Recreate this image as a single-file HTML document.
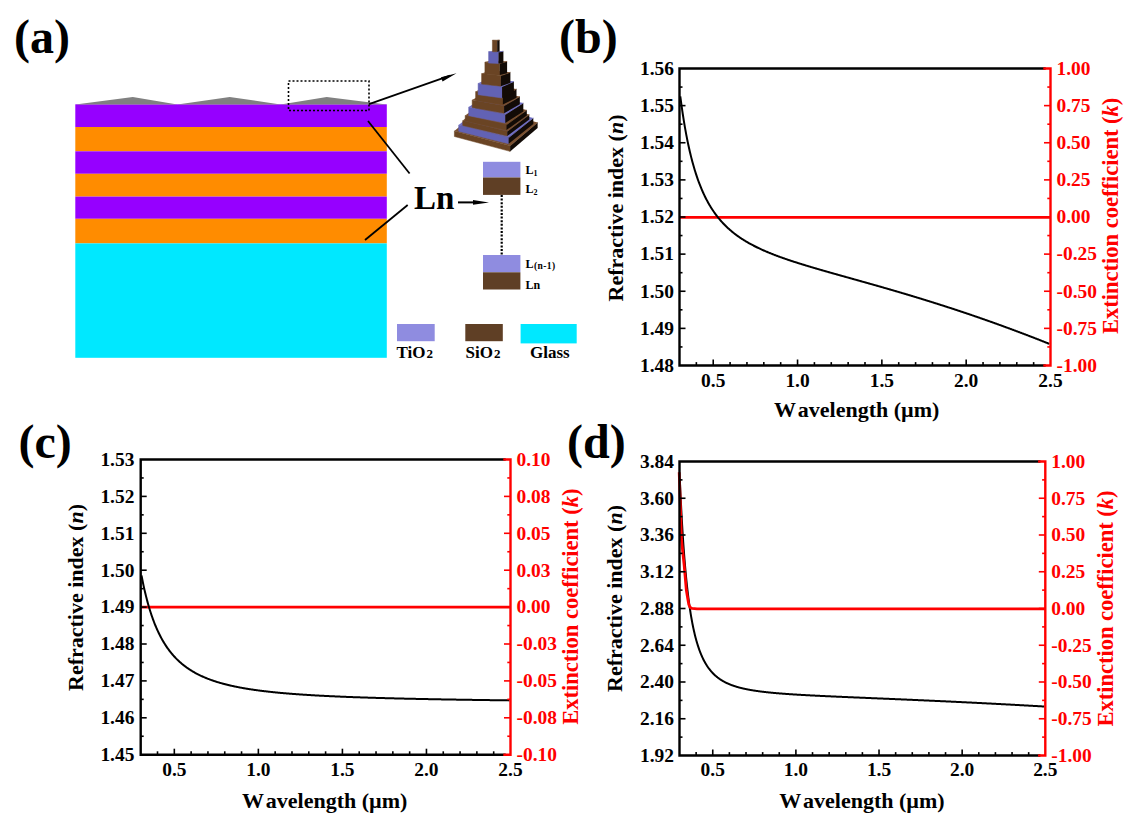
<!DOCTYPE html><html><head><meta charset="utf-8"><style>html,body{margin:0;padding:0;background:#fff;width:1132px;height:828px;overflow:hidden}svg{display:block}</style></head><body>
<svg width="1132" height="828" viewBox="0 0 1132 828" font-family='"Liberation Serif", serif' font-weight="bold">
<rect width="1132" height="828" fill="#fff"/>
<text x="14.0" y="53.0" font-size="48" text-anchor="start" fill="#000" >(a)</text>
<text x="559.0" y="53.0" font-size="48" text-anchor="start" fill="#000" >(b)</text>
<text x="18.5" y="457.5" font-size="48" text-anchor="start" fill="#000" >(c)</text>
<text x="567.0" y="457.5" font-size="48" text-anchor="start" fill="#000" >(d)</text>
<rect x="75.3" y="104.3" width="311.5" height="22.70" fill="#9600ff"/>
<rect x="75.3" y="127" width="311.5" height="24.30" fill="#ff8c00"/>
<rect x="75.3" y="151.3" width="311.5" height="22.50" fill="#9600ff"/>
<rect x="75.3" y="173.8" width="311.5" height="22.80" fill="#ff8c00"/>
<rect x="75.3" y="196.6" width="311.5" height="22.20" fill="#9600ff"/>
<rect x="75.3" y="218.8" width="311.5" height="24.60" fill="#ff8c00"/>
<rect x="75.3" y="243.4" width="311.5" height="114.40" fill="#00e8ff"/>
<path d="M75.5,104.5 L132.8,96.9 L177.4,104.5 L229.7,96.9 L280.6,104.5 L326.7,96.9 L386.6,104.5 Z" fill="#808080"/>
<rect x="288.5" y="81" width="80.5" height="29.5" fill="none" stroke="#000" stroke-width="1.6" stroke-dasharray="2 2"/>
<line x1="369" y1="104.2" x2="450" y2="75.6" stroke="#000" stroke-width="1.8"/>
<path d="M456.5,73.2 L441,77.2 L442.6,81.6 Z" fill="#000"/>
<line x1="368" y1="121" x2="409.6" y2="173.5" stroke="#000" stroke-width="1.8"/>
<line x1="407.7" y1="205" x2="365" y2="240" stroke="#000" stroke-width="1.8"/>
<text x="414.0" y="209.0" font-size="33" text-anchor="start" fill="#000" >Ln</text>
<line x1="458" y1="202.4" x2="478" y2="202.4" stroke="#000" stroke-width="2"/>
<path d="M489,202.4 L473,200 L473,204.8 Z" fill="#000"/>
<rect x="483" y="161.8" width="37.4" height="15.7" fill="#8f8ce0"/>
<rect x="483" y="177.5" width="37.4" height="17.4" fill="#5f3f25"/>
<rect x="483" y="255" width="37.4" height="17.3" fill="#8f8ce0"/>
<rect x="483" y="272.3" width="37.4" height="17.2" fill="#5f3f25"/>
<line x1="501.7" y1="195" x2="501.7" y2="255" stroke="#000" stroke-width="2.2" stroke-dasharray="2 1.6"/>
<text x="525.5" y="174" font-size="12">L<tspan font-size="8" dy="2">1</tspan></text>
<text x="525.5" y="193" font-size="12">L<tspan font-size="8" dy="2">2</tspan></text>
<text x="525.5" y="268" font-size="12">L<tspan font-size="9.5" dy="1" dx="0.5" letter-spacing="0.4">(n-1)</tspan></text>
<text x="525.5" y="288.5" font-size="12">Ln</text>
<rect x="397" y="324" width="37.7" height="17.2" fill="#8f8ce0"/>
<rect x="465.3" y="324" width="37.5" height="17.2" fill="#5f3f25"/>
<rect x="520.6" y="324" width="56.1" height="19.4" fill="#00e8ff"/>
<text x="396.5" y="358" font-size="17">TiO<tspan font-size="13" dx="1">2</tspan></text>
<text x="465.5" y="358" font-size="17">SiO<tspan font-size="13" dx="1">2</tspan></text>
<text x="530" y="358" font-size="17">Glass</text>
<path d="M454.4,130.9 L510.1,145.8 L537.6,122.5 L481.9,107.5 Z" fill="#7a5030"/>
<path d="M454.4,130.9 L510.1,145.8 L510.1,151.4 L454.4,136.5 Z" fill="#6a4424" stroke="#6a4424" stroke-width="0.5"/>
<path d="M510.1,145.8 L537.6,122.5 L537.6,128.1 L510.1,151.4 Z" fill="#120b06"/>
<path d="M510.1,145.8 L537.6,122.5" stroke="#7a5030" stroke-width="0.8" fill="none"/>
<path d="M458.7,125.0 L508.7,137.6 L533.3,117.9 L483.3,105.3 Z" fill="#7070c4"/>
<path d="M458.7,125.0 L508.7,137.6 L508.7,143.8 L458.7,131.2 Z" fill="#6262b4" stroke="#6262b4" stroke-width="0.5"/>
<path d="M508.7,137.6 L533.3,117.9 L533.3,124.1 L508.7,143.8 Z" fill="#120b06"/>
<path d="M508.7,137.6 L533.3,117.9" stroke="#7070c4" stroke-width="0.8" fill="none"/>
<path d="M462.7,120.6 L507.3,131.3 L529.3,114.6 L484.7,103.9 Z" fill="#7a5030"/>
<path d="M462.7,120.6 L507.3,131.3 L507.3,136.1 L462.7,125.4 Z" fill="#6a4424" stroke="#6a4424" stroke-width="0.5"/>
<path d="M507.3,131.3 L529.3,114.6 L529.3,119.4 L507.3,136.1 Z" fill="#120b06"/>
<path d="M507.3,131.3 L529.3,114.6" stroke="#7a5030" stroke-width="0.8" fill="none"/>
<path d="M465.2,115.4 L506.5,124.7 L526.8,110.1 L485.5,100.8 Z" fill="#7a5030"/>
<path d="M465.2,115.4 L506.5,124.7 L506.5,130.1 L465.2,120.8 Z" fill="#6a4424" stroke="#6a4424" stroke-width="0.5"/>
<path d="M506.5,124.7 L526.8,110.1 L526.8,115.5 L506.5,130.1 Z" fill="#120b06"/>
<path d="M506.5,124.7 L526.8,110.1" stroke="#7a5030" stroke-width="0.8" fill="none"/>
<path d="M468.7,107.1 L505.3,114.5 L523.3,102.9 L486.7,95.5 Z" fill="#7070c4"/>
<path d="M468.7,107.1 L505.3,114.5 L505.3,123.1 L468.7,115.7 Z" fill="#6262b4" stroke="#6262b4" stroke-width="0.5"/>
<path d="M505.3,114.5 L523.3,102.9 L523.3,111.5 L505.3,123.1 Z" fill="#120b06"/>
<path d="M505.3,114.5 L523.3,102.9" stroke="#7070c4" stroke-width="0.8" fill="none"/>
<path d="M472.2,99.9 L504.1,105.7 L519.8,96.6 L487.9,90.8 Z" fill="#7a5030"/>
<path d="M472.2,99.9 L504.1,105.7 L504.1,113.3 L472.2,107.5 Z" fill="#6a4424" stroke="#6a4424" stroke-width="0.5"/>
<path d="M504.1,105.7 L519.8,96.6 L519.8,104.2 L504.1,113.3 Z" fill="#120b06"/>
<path d="M504.1,105.7 L519.8,96.6" stroke="#7a5030" stroke-width="0.8" fill="none"/>
<path d="M475.6,91.6 L502.9,96.0 L516.5,89.1 L489.1,84.7 Z" fill="#7a5030"/>
<path d="M475.6,91.6 L502.9,96.0 L502.9,104.6 L475.6,100.2 Z" fill="#6a4424" stroke="#6a4424" stroke-width="0.5"/>
<path d="M502.9,96.0 L516.5,89.1 L516.5,97.7 L502.9,104.6 Z" fill="#120b06"/>
<path d="M502.9,96.0 L516.5,89.1" stroke="#7a5030" stroke-width="0.8" fill="none"/>
<path d="M478.1,83.3 L502.1,86.6 L513.9,81.4 L489.9,78.1 Z" fill="#7070c4"/>
<path d="M478.1,83.3 L502.1,86.6 L502.1,98.0 L478.1,94.7 Z" fill="#6262b4" stroke="#6262b4" stroke-width="0.5"/>
<path d="M502.1,86.6 L513.9,81.4 L513.9,92.8 L502.1,98.0 Z" fill="#120b06"/>
<path d="M502.1,86.6 L513.9,81.4" stroke="#7070c4" stroke-width="0.8" fill="none"/>
<path d="M481.6,73.5 L500.9,75.6 L510.4,72.3 L491.1,70.2 Z" fill="#7a5030"/>
<path d="M481.6,73.5 L500.9,75.6 L500.9,86.2 L481.6,84.1 Z" fill="#6a4424" stroke="#6a4424" stroke-width="0.5"/>
<path d="M500.9,75.6 L510.4,72.3 L510.4,82.9 L500.9,86.2 Z" fill="#120b06"/>
<path d="M500.9,75.6 L510.4,72.3" stroke="#7a5030" stroke-width="0.8" fill="none"/>
<path d="M484.9,62.1 L499.8,63.3 L507.1,61.4 L492.2,60.2 Z" fill="#7a5030"/>
<path d="M484.9,62.1 L499.8,63.3 L499.8,75.1 L484.9,73.9 Z" fill="#6a4424" stroke="#6a4424" stroke-width="0.5"/>
<path d="M499.8,63.3 L507.1,61.4 L507.1,73.2 L499.8,75.1 Z" fill="#120b06"/>
<path d="M499.8,63.3 L507.1,61.4" stroke="#7a5030" stroke-width="0.8" fill="none"/>
<path d="M488.6,51.5 L498.5,52.0 L503.4,51.2 L493.5,50.7 Z" fill="#7070c4"/>
<path d="M488.6,51.5 L498.5,52.0 L498.5,63.6 L488.6,63.1 Z" fill="#6262b4" stroke="#6262b4" stroke-width="0.5"/>
<path d="M498.5,52.0 L503.4,51.2 L503.4,62.8 L498.5,63.6 Z" fill="#120b06"/>
<path d="M498.5,52.0 L503.4,51.2" stroke="#7070c4" stroke-width="0.8" fill="none"/>
<path d="M492.4,40.1 L497.2,40.2 L499.6,40.0 L494.8,40.0 Z" fill="#7a5030"/>
<path d="M492.4,40.1 L497.2,40.2 L497.2,51.8 L492.4,51.7 Z" fill="#6a4424" stroke="#6a4424" stroke-width="0.5"/>
<path d="M497.2,40.2 L499.6,40.0 L499.6,51.6 L497.2,51.8 Z" fill="#120b06"/>
<path d="M497.2,40.2 L499.6,40.0" stroke="#7a5030" stroke-width="0.8" fill="none"/>
<path d="M679.5,217.4 L1050.5,217.4" fill="none" stroke="#f00" stroke-width="2.8" stroke-linejoin="round"/>
<path d="M680.30,96.31 L680.80,100.15 L681.30,103.85 L681.80,107.43 L682.30,110.89 L682.80,114.23 L683.30,117.46 L683.80,120.60 L684.30,123.63 L684.80,126.56 L685.30,129.41 L685.80,132.16 L686.30,134.84 L686.80,137.43 L687.30,139.94 L687.80,142.39 L688.30,144.76 L688.80,147.06 L689.30,149.29 L689.80,151.47 L690.30,153.58 L690.80,155.63 L691.30,157.63 L691.80,159.57 L692.30,161.46 L692.80,163.31 L693.30,165.10 L693.80,166.85 L694.30,168.55 L694.80,170.21 L695.30,171.82 L695.80,173.40 L696.30,174.93 L696.80,176.43 L697.30,177.90 L697.80,179.32 L698.30,180.72 L698.80,182.08 L699.30,183.41 L699.80,184.71 L700.30,185.98 L700.80,187.22 L701.30,188.43 L701.80,189.61 L702.30,190.77 L702.80,191.90 L703.30,193.01 L703.80,194.10 L704.30,195.16 L704.80,196.20 L705.30,197.22 L705.80,198.21 L706.30,199.19 L706.80,200.15 L707.30,201.08 L707.80,202.00 L708.30,202.90 L708.80,203.79 L709.30,204.65 L709.80,205.50 L710.30,206.33 L710.80,207.15 L711.30,207.95 L711.80,208.74 L712.30,209.51 L712.80,210.27 L713.30,211.01 L713.80,211.74 L714.30,212.46 L714.80,213.16 L715.30,213.86 L715.80,214.54 L716.30,215.21 L716.80,215.86 L717.30,216.51 L717.80,217.15 L718.30,217.77 L718.80,218.38 L719.30,218.99 L719.80,219.58 L720.30,220.17 L720.80,220.74 L721.30,221.31 L721.80,221.87 L722.30,222.42 L722.80,222.96 L723.30,223.49 L723.80,224.01 L724.30,224.53 L724.80,225.04 L725.30,225.54 L725.80,226.04 L726.30,226.52 L726.80,227.00 L727.30,227.47 L727.80,227.94 L728.30,228.40 L728.80,228.85 L729.30,229.30 L729.80,229.74 L730.30,230.18 L730.80,230.61 L731.30,231.03 L731.80,231.45 L732.30,231.86 L732.80,232.27 L733.30,232.67 L733.80,233.06 L734.30,233.46 L734.80,233.84 L735.30,234.22 L735.80,234.60 L736.30,234.97 L736.80,235.34 L737.30,235.71 L737.80,236.07 L738.30,236.42 L738.80,236.77 L739.30,237.12 L739.80,237.46 L740.30,237.80 L740.80,238.14 L741.30,238.47 L741.80,238.80 L742.30,239.12 L742.80,239.44 L743.30,239.76 L743.80,240.07 L744.30,240.38 L744.80,240.69 L745.30,241.00 L745.80,241.30 L746.30,241.60 L746.80,241.89 L747.30,242.18 L747.80,242.47 L748.30,242.76 L748.80,243.04 L749.30,243.32 L749.80,243.60 L750.30,243.88 L750.80,244.15 L751.30,244.42 L751.80,244.69 L752.30,244.96 L752.80,245.22 L753.30,245.48 L753.80,245.74 L754.30,246.00 L754.80,246.25 L755.30,246.50 L755.80,246.75 L756.30,247.00 L756.80,247.25 L757.30,247.49 L757.80,247.73 L758.30,247.97 L758.80,248.21 L759.30,248.45 L759.80,248.68 L760.30,248.91 L760.80,249.14 L761.30,249.37 L761.80,249.60 L762.30,249.83 L762.80,250.05 L763.30,250.27 L763.80,250.49 L764.30,250.71 L764.80,250.93 L765.30,251.15 L765.80,251.36 L766.30,251.58 L766.80,251.79 L767.30,252.00 L767.80,252.21 L768.30,252.42 L768.80,252.62 L769.30,252.83 L769.80,253.03 L770.30,253.23 L770.80,253.44 L771.30,253.64 L771.80,253.83 L772.30,254.03 L772.80,254.23 L773.30,254.42 L773.80,254.62 L774.30,254.81 L774.80,255.01 L775.30,255.20 L775.80,255.39 L776.30,255.58 L776.80,255.76 L777.30,255.95 L777.80,256.14 L778.30,256.32 L778.80,256.51 L779.30,256.69 L779.80,256.87 L780.30,257.06 L780.80,257.24 L781.30,257.42 L781.80,257.60 L782.30,257.77 L782.80,257.95 L783.30,258.13 L783.80,258.30 L784.30,258.48 L784.80,258.65 L785.30,258.83 L785.80,259.00 L786.30,259.17 L786.80,259.34 L787.30,259.51 L787.80,259.68 L788.30,259.85 L788.80,260.02 L789.30,260.19 L789.80,260.36 L790.30,260.53 L790.80,260.69 L791.30,260.86 L791.80,261.02 L792.30,261.19 L792.80,261.35 L793.30,261.51 L793.80,261.68 L794.30,261.84 L794.80,262.00 L795.30,262.16 L795.80,262.32 L796.30,262.48 L796.80,262.64 L797.30,262.80 L797.80,262.96 L798.30,263.12 L798.80,263.28 L799.30,263.44 L799.80,263.59 L800.30,263.75 L800.80,263.91 L801.30,264.06 L801.80,264.22 L802.30,264.37 L802.80,264.53 L803.30,264.68 L803.80,264.83 L804.30,264.99 L804.80,265.14 L805.30,265.29 L805.80,265.45 L806.30,265.60 L806.80,265.75 L807.30,265.90 L807.80,266.05 L808.30,266.20 L808.80,266.35 L809.30,266.50 L809.80,266.65 L810.30,266.80 L810.80,266.95 L811.30,267.10 L811.80,267.25 L812.30,267.40 L812.80,267.54 L813.30,267.69 L813.80,267.84 L814.30,267.99 L814.80,268.13 L815.30,268.28 L815.80,268.43 L816.30,268.57 L816.80,268.72 L817.30,268.87 L817.80,269.01 L818.30,269.16 L818.80,269.30 L819.30,269.45 L819.80,269.59 L820.30,269.74 L820.80,269.88 L821.30,270.03 L821.80,270.17 L822.30,270.32 L822.80,270.46 L823.30,270.60 L823.80,270.75 L824.30,270.89 L824.80,271.03 L825.30,271.18 L825.80,271.32 L826.30,271.46 L826.80,271.61 L827.30,271.75 L827.80,271.89 L828.30,272.03 L828.80,272.17 L829.30,272.32 L829.80,272.46 L830.30,272.60 L830.80,272.74 L831.30,272.88 L831.80,273.03 L832.30,273.17 L832.80,273.31 L833.30,273.45 L833.80,273.59 L834.30,273.73 L834.80,273.87 L835.30,274.01 L835.80,274.16 L836.30,274.30 L836.80,274.44 L837.30,274.58 L837.80,274.72 L838.30,274.86 L838.80,275.00 L839.30,275.14 L839.80,275.28 L840.30,275.42 L840.80,275.56 L841.30,275.70 L841.80,275.84 L842.30,275.98 L842.80,276.12 L843.30,276.26 L843.80,276.40 L844.30,276.54 L844.80,276.68 L845.30,276.82 L845.80,276.96 L846.30,277.10 L846.80,277.24 L847.30,277.38 L847.80,277.52 L848.30,277.66 L848.80,277.80 L849.30,277.94 L849.80,278.08 L850.30,278.22 L850.80,278.36 L851.30,278.50 L851.80,278.64 L852.30,278.78 L852.80,278.92 L853.30,279.06 L853.80,279.20 L854.30,279.34 L854.80,279.48 L855.30,279.62 L855.80,279.76 L856.30,279.90 L856.80,280.04 L857.30,280.18 L857.80,280.32 L858.30,280.46 L858.80,280.60 L859.30,280.74 L859.80,280.88 L860.30,281.02 L860.80,281.17 L861.30,281.31 L861.80,281.45 L862.30,281.59 L862.80,281.73 L863.30,281.87 L863.80,282.01 L864.30,282.15 L864.80,282.29 L865.30,282.43 L865.80,282.57 L866.30,282.71 L866.80,282.85 L867.30,282.99 L867.80,283.14 L868.30,283.28 L868.80,283.42 L869.30,283.56 L869.80,283.70 L870.30,283.84 L870.80,283.98 L871.30,284.13 L871.80,284.27 L872.30,284.41 L872.80,284.55 L873.30,284.69 L873.80,284.84 L874.30,284.98 L874.80,285.12 L875.30,285.26 L875.80,285.40 L876.30,285.55 L876.80,285.69 L877.30,285.83 L877.80,285.97 L878.30,286.12 L878.80,286.26 L879.30,286.40 L879.80,286.55 L880.30,286.69 L880.80,286.83 L881.30,286.97 L881.80,287.12 L882.30,287.26 L882.80,287.41 L883.30,287.55 L883.80,287.69 L884.30,287.84 L884.80,287.98 L885.30,288.12 L885.80,288.27 L886.30,288.41 L886.80,288.56 L887.30,288.70 L887.80,288.85 L888.30,288.99 L888.80,289.14 L889.30,289.28 L889.80,289.43 L890.30,289.57 L890.80,289.72 L891.30,289.86 L891.80,290.01 L892.30,290.15 L892.80,290.30 L893.30,290.44 L893.80,290.59 L894.30,290.74 L894.80,290.88 L895.30,291.03 L895.80,291.18 L896.30,291.32 L896.80,291.47 L897.30,291.62 L897.80,291.76 L898.30,291.91 L898.80,292.06 L899.30,292.20 L899.80,292.35 L900.30,292.50 L900.80,292.65 L901.30,292.79 L901.80,292.94 L902.30,293.09 L902.80,293.24 L903.30,293.39 L903.80,293.54 L904.30,293.68 L904.80,293.83 L905.30,293.98 L905.80,294.13 L906.30,294.28 L906.80,294.43 L907.30,294.58 L907.80,294.73 L908.30,294.88 L908.80,295.03 L909.30,295.18 L909.80,295.33 L910.30,295.48 L910.80,295.63 L911.30,295.78 L911.80,295.93 L912.30,296.08 L912.80,296.23 L913.30,296.38 L913.80,296.53 L914.30,296.68 L914.80,296.84 L915.30,296.99 L915.80,297.14 L916.30,297.29 L916.80,297.44 L917.30,297.60 L917.80,297.75 L918.30,297.90 L918.80,298.05 L919.30,298.21 L919.80,298.36 L920.30,298.51 L920.80,298.67 L921.30,298.82 L921.80,298.97 L922.30,299.13 L922.80,299.28 L923.30,299.43 L923.80,299.59 L924.30,299.74 L924.80,299.90 L925.30,300.05 L925.80,300.21 L926.30,300.36 L926.80,300.52 L927.30,300.67 L927.80,300.83 L928.30,300.98 L928.80,301.14 L929.30,301.30 L929.80,301.45 L930.30,301.61 L930.80,301.76 L931.30,301.92 L931.80,302.08 L932.30,302.23 L932.80,302.39 L933.30,302.55 L933.80,302.71 L934.30,302.86 L934.80,303.02 L935.30,303.18 L935.80,303.34 L936.30,303.50 L936.80,303.65 L937.30,303.81 L937.80,303.97 L938.30,304.13 L938.80,304.29 L939.30,304.45 L939.80,304.61 L940.30,304.77 L940.80,304.93 L941.30,305.09 L941.80,305.25 L942.30,305.41 L942.80,305.57 L943.30,305.73 L943.80,305.89 L944.30,306.05 L944.80,306.21 L945.30,306.37 L945.80,306.53 L946.30,306.69 L946.80,306.86 L947.30,307.02 L947.80,307.18 L948.30,307.34 L948.80,307.50 L949.30,307.67 L949.80,307.83 L950.30,307.99 L950.80,308.16 L951.30,308.32 L951.80,308.48 L952.30,308.65 L952.80,308.81 L953.30,308.97 L953.80,309.14 L954.30,309.30 L954.80,309.47 L955.30,309.63 L955.80,309.80 L956.30,309.96 L956.80,310.13 L957.30,310.29 L957.80,310.46 L958.30,310.62 L958.80,310.79 L959.30,310.95 L959.80,311.12 L960.30,311.29 L960.80,311.45 L961.30,311.62 L961.80,311.79 L962.30,311.95 L962.80,312.12 L963.30,312.29 L963.80,312.46 L964.30,312.62 L964.80,312.79 L965.30,312.96 L965.80,313.13 L966.30,313.30 L966.80,313.47 L967.30,313.63 L967.80,313.80 L968.30,313.97 L968.80,314.14 L969.30,314.31 L969.80,314.48 L970.30,314.65 L970.80,314.82 L971.30,314.99 L971.80,315.16 L972.30,315.33 L972.80,315.50 L973.30,315.68 L973.80,315.85 L974.30,316.02 L974.80,316.19 L975.30,316.36 L975.80,316.53 L976.30,316.71 L976.80,316.88 L977.30,317.05 L977.80,317.22 L978.30,317.40 L978.80,317.57 L979.30,317.74 L979.80,317.92 L980.30,318.09 L980.80,318.26 L981.30,318.44 L981.80,318.61 L982.30,318.78 L982.80,318.96 L983.30,319.13 L983.80,319.31 L984.30,319.48 L984.80,319.66 L985.30,319.83 L985.80,320.01 L986.30,320.19 L986.80,320.36 L987.30,320.54 L987.80,320.71 L988.30,320.89 L988.80,321.07 L989.30,321.25 L989.80,321.42 L990.30,321.60 L990.80,321.78 L991.30,321.95 L991.80,322.13 L992.30,322.31 L992.80,322.49 L993.30,322.67 L993.80,322.85 L994.30,323.02 L994.80,323.20 L995.30,323.38 L995.80,323.56 L996.30,323.74 L996.80,323.92 L997.30,324.10 L997.80,324.28 L998.30,324.46 L998.80,324.64 L999.30,324.82 L999.80,325.00 L1000.30,325.18 L1000.80,325.37 L1001.30,325.55 L1001.80,325.73 L1002.30,325.91 L1002.80,326.09 L1003.30,326.27 L1003.80,326.46 L1004.30,326.64 L1004.80,326.82 L1005.30,327.01 L1005.80,327.19 L1006.30,327.37 L1006.80,327.56 L1007.30,327.74 L1007.80,327.92 L1008.30,328.11 L1008.80,328.29 L1009.30,328.48 L1009.80,328.66 L1010.30,328.84 L1010.80,329.03 L1011.30,329.21 L1011.80,329.40 L1012.30,329.59 L1012.80,329.77 L1013.30,329.96 L1013.80,330.14 L1014.30,330.33 L1014.80,330.52 L1015.30,330.70 L1015.80,330.89 L1016.30,331.08 L1016.80,331.26 L1017.30,331.45 L1017.80,331.64 L1018.30,331.83 L1018.80,332.02 L1019.30,332.20 L1019.80,332.39 L1020.30,332.58 L1020.80,332.77 L1021.30,332.96 L1021.80,333.15 L1022.30,333.34 L1022.80,333.53 L1023.30,333.72 L1023.80,333.91 L1024.30,334.10 L1024.80,334.29 L1025.30,334.48 L1025.80,334.67 L1026.30,334.86 L1026.80,335.05 L1027.30,335.24 L1027.80,335.43 L1028.30,335.62 L1028.80,335.82 L1029.30,336.01 L1029.80,336.20 L1030.30,336.39 L1030.80,336.59 L1031.30,336.78 L1031.80,336.97 L1032.30,337.16 L1032.80,337.36 L1033.30,337.55 L1033.80,337.74 L1034.30,337.94 L1034.80,338.13 L1035.30,338.33 L1035.80,338.52 L1036.30,338.72 L1036.80,338.91 L1037.30,339.11 L1037.80,339.30 L1038.30,339.50 L1038.80,339.69 L1039.30,339.89 L1039.80,340.08 L1040.30,340.28 L1040.80,340.48 L1041.30,340.67 L1041.80,340.87 L1042.30,341.07 L1042.80,341.26 L1043.30,341.46 L1043.80,341.66 L1044.30,341.86 L1044.80,342.06 L1045.30,342.25 L1045.80,342.45 L1046.30,342.65 L1046.80,342.85 L1047.30,343.05 L1047.80,343.25 L1048.30,343.45 L1048.80,343.65 L1049.30,343.85" fill="none" stroke="#000" stroke-width="2.0" stroke-linejoin="round"/>
<line x1="696.36" y1="365.5" x2="696.36" y2="362.1" stroke="#000" stroke-width="1.6"/>
<line x1="713.23" y1="365.5" x2="713.23" y2="359.5" stroke="#000" stroke-width="1.6"/>
<line x1="730.09" y1="365.5" x2="730.09" y2="362.1" stroke="#000" stroke-width="1.6"/>
<line x1="746.95" y1="365.5" x2="746.95" y2="362.1" stroke="#000" stroke-width="1.6"/>
<line x1="763.82" y1="365.5" x2="763.82" y2="362.1" stroke="#000" stroke-width="1.6"/>
<line x1="780.68" y1="365.5" x2="780.68" y2="362.1" stroke="#000" stroke-width="1.6"/>
<line x1="797.55" y1="365.5" x2="797.55" y2="359.5" stroke="#000" stroke-width="1.6"/>
<line x1="814.41" y1="365.5" x2="814.41" y2="362.1" stroke="#000" stroke-width="1.6"/>
<line x1="831.27" y1="365.5" x2="831.27" y2="362.1" stroke="#000" stroke-width="1.6"/>
<line x1="848.14" y1="365.5" x2="848.14" y2="362.1" stroke="#000" stroke-width="1.6"/>
<line x1="865.00" y1="365.5" x2="865.00" y2="362.1" stroke="#000" stroke-width="1.6"/>
<line x1="881.86" y1="365.5" x2="881.86" y2="359.5" stroke="#000" stroke-width="1.6"/>
<line x1="898.73" y1="365.5" x2="898.73" y2="362.1" stroke="#000" stroke-width="1.6"/>
<line x1="915.59" y1="365.5" x2="915.59" y2="362.1" stroke="#000" stroke-width="1.6"/>
<line x1="932.45" y1="365.5" x2="932.45" y2="362.1" stroke="#000" stroke-width="1.6"/>
<line x1="949.32" y1="365.5" x2="949.32" y2="362.1" stroke="#000" stroke-width="1.6"/>
<line x1="966.18" y1="365.5" x2="966.18" y2="359.5" stroke="#000" stroke-width="1.6"/>
<line x1="983.05" y1="365.5" x2="983.05" y2="362.1" stroke="#000" stroke-width="1.6"/>
<line x1="999.91" y1="365.5" x2="999.91" y2="362.1" stroke="#000" stroke-width="1.6"/>
<line x1="1016.77" y1="365.5" x2="1016.77" y2="362.1" stroke="#000" stroke-width="1.6"/>
<line x1="1033.64" y1="365.5" x2="1033.64" y2="362.1" stroke="#000" stroke-width="1.6"/>
<text transform="translate(713.23 387.00) scale(1.08 1)" font-size="18" text-anchor="middle" fill="#000">0.5</text>
<text transform="translate(797.55 387.00) scale(1.08 1)" font-size="18" text-anchor="middle" fill="#000">1.0</text>
<text transform="translate(881.86 387.00) scale(1.08 1)" font-size="18" text-anchor="middle" fill="#000">1.5</text>
<text transform="translate(966.18 387.00) scale(1.08 1)" font-size="18" text-anchor="middle" fill="#000">2.0</text>
<text transform="translate(1050.50 387.00) scale(1.08 1)" font-size="18" text-anchor="middle" fill="#000">2.5</text>
<line x1="679.5" y1="346.94" x2="682.50" y2="346.94" stroke="#000" stroke-width="1.6"/>
<line x1="679.5" y1="328.38" x2="685.50" y2="328.38" stroke="#000" stroke-width="1.6"/>
<line x1="679.5" y1="309.81" x2="682.50" y2="309.81" stroke="#000" stroke-width="1.6"/>
<line x1="679.5" y1="291.25" x2="685.50" y2="291.25" stroke="#000" stroke-width="1.6"/>
<line x1="679.5" y1="272.69" x2="682.50" y2="272.69" stroke="#000" stroke-width="1.6"/>
<line x1="679.5" y1="254.12" x2="685.50" y2="254.12" stroke="#000" stroke-width="1.6"/>
<line x1="679.5" y1="235.56" x2="682.50" y2="235.56" stroke="#000" stroke-width="1.6"/>
<line x1="679.5" y1="217.00" x2="685.50" y2="217.00" stroke="#000" stroke-width="1.6"/>
<line x1="679.5" y1="198.44" x2="682.50" y2="198.44" stroke="#000" stroke-width="1.6"/>
<line x1="679.5" y1="179.88" x2="685.50" y2="179.88" stroke="#000" stroke-width="1.6"/>
<line x1="679.5" y1="161.31" x2="682.50" y2="161.31" stroke="#000" stroke-width="1.6"/>
<line x1="679.5" y1="142.75" x2="685.50" y2="142.75" stroke="#000" stroke-width="1.6"/>
<line x1="679.5" y1="124.19" x2="682.50" y2="124.19" stroke="#000" stroke-width="1.6"/>
<line x1="679.5" y1="105.62" x2="685.50" y2="105.62" stroke="#000" stroke-width="1.6"/>
<line x1="679.5" y1="87.06" x2="682.50" y2="87.06" stroke="#000" stroke-width="1.6"/>
<text transform="translate(674.00 371.80) scale(1.08 1)" font-size="18" text-anchor="end" fill="#000">1.48</text>
<text transform="translate(674.00 334.68) scale(1.08 1)" font-size="18" text-anchor="end" fill="#000">1.49</text>
<text transform="translate(674.00 297.55) scale(1.08 1)" font-size="18" text-anchor="end" fill="#000">1.50</text>
<text transform="translate(674.00 260.43) scale(1.08 1)" font-size="18" text-anchor="end" fill="#000">1.51</text>
<text transform="translate(674.00 223.30) scale(1.08 1)" font-size="18" text-anchor="end" fill="#000">1.52</text>
<text transform="translate(674.00 186.18) scale(1.08 1)" font-size="18" text-anchor="end" fill="#000">1.53</text>
<text transform="translate(674.00 149.05) scale(1.08 1)" font-size="18" text-anchor="end" fill="#000">1.54</text>
<text transform="translate(674.00 111.92) scale(1.08 1)" font-size="18" text-anchor="end" fill="#000">1.55</text>
<text transform="translate(674.00 74.80) scale(1.08 1)" font-size="18" text-anchor="end" fill="#000">1.56</text>
<line x1="1050.5" y1="346.94" x2="1047.30" y2="346.94" stroke="#f00" stroke-width="1.6"/>
<line x1="1050.5" y1="328.38" x2="1044.00" y2="328.38" stroke="#f00" stroke-width="1.6"/>
<line x1="1050.5" y1="309.81" x2="1047.30" y2="309.81" stroke="#f00" stroke-width="1.6"/>
<line x1="1050.5" y1="291.25" x2="1044.00" y2="291.25" stroke="#f00" stroke-width="1.6"/>
<line x1="1050.5" y1="272.69" x2="1047.30" y2="272.69" stroke="#f00" stroke-width="1.6"/>
<line x1="1050.5" y1="254.12" x2="1044.00" y2="254.12" stroke="#f00" stroke-width="1.6"/>
<line x1="1050.5" y1="235.56" x2="1047.30" y2="235.56" stroke="#f00" stroke-width="1.6"/>
<line x1="1050.5" y1="217.00" x2="1044.00" y2="217.00" stroke="#f00" stroke-width="1.6"/>
<line x1="1050.5" y1="198.44" x2="1047.30" y2="198.44" stroke="#f00" stroke-width="1.6"/>
<line x1="1050.5" y1="179.88" x2="1044.00" y2="179.88" stroke="#f00" stroke-width="1.6"/>
<line x1="1050.5" y1="161.31" x2="1047.30" y2="161.31" stroke="#f00" stroke-width="1.6"/>
<line x1="1050.5" y1="142.75" x2="1044.00" y2="142.75" stroke="#f00" stroke-width="1.6"/>
<line x1="1050.5" y1="124.19" x2="1047.30" y2="124.19" stroke="#f00" stroke-width="1.6"/>
<line x1="1050.5" y1="105.62" x2="1044.00" y2="105.62" stroke="#f00" stroke-width="1.6"/>
<line x1="1050.5" y1="87.06" x2="1047.30" y2="87.06" stroke="#f00" stroke-width="1.6"/>
<text transform="translate(1056.50 371.80) scale(1.08 1)" font-size="18" text-anchor="start" fill="#f00">-1.00</text>
<text transform="translate(1056.50 334.68) scale(1.08 1)" font-size="18" text-anchor="start" fill="#f00">-0.75</text>
<text transform="translate(1056.50 297.55) scale(1.08 1)" font-size="18" text-anchor="start" fill="#f00">-0.50</text>
<text transform="translate(1056.50 260.43) scale(1.08 1)" font-size="18" text-anchor="start" fill="#f00">-0.25</text>
<text transform="translate(1056.50 223.30) scale(1.08 1)" font-size="18" text-anchor="start" fill="#f00">0.00</text>
<text transform="translate(1056.50 186.18) scale(1.08 1)" font-size="18" text-anchor="start" fill="#f00">0.25</text>
<text transform="translate(1056.50 149.05) scale(1.08 1)" font-size="18" text-anchor="start" fill="#f00">0.50</text>
<text transform="translate(1056.50 111.92) scale(1.08 1)" font-size="18" text-anchor="start" fill="#f00">0.75</text>
<text transform="translate(1056.50 74.80) scale(1.08 1)" font-size="18" text-anchor="start" fill="#f00">1.00</text>
<path d="M1044.5,68.5 L679.5,68.5 L679.5,365.5 L1044.5,365.5" fill="none" stroke="#000" stroke-width="2.4" stroke-linecap="square"/>
<path d="M1044.5,68.5 L1050.5,68.5 L1050.5,365.5 L1044.5,365.5" fill="none" stroke="#f00" stroke-width="2.4" stroke-linecap="square"/>
<text x="623.0" y="208.0" font-size="22" text-anchor="middle" fill="#000" transform="rotate(-90 623 208)">Refractive index (<tspan font-style="italic">n</tspan>)</text>
<text x="1118.5" y="215.8" font-size="22.5" text-anchor="middle" fill="#f00" transform="rotate(-90 1118.5 215.8)">Extinction coefficient (<tspan font-style="italic">k</tspan>)</text>
<text x="856.7" y="416.9" font-size="22" text-anchor="middle" fill="#000" >W<tspan dx="3">avelength (µm)</tspan></text>
<path d="M140.7,607.1 L510.5,607.1" fill="none" stroke="#f00" stroke-width="2.8" stroke-linejoin="round"/>
<path d="M141.50,575.46 L142.00,578.06 L142.50,580.56 L143.00,583.00 L143.50,585.35 L144.00,587.64 L144.50,589.86 L145.00,592.01 L145.50,594.10 L146.00,596.13 L146.50,598.10 L147.00,600.02 L147.50,601.88 L148.00,603.69 L148.50,605.45 L149.00,607.16 L149.50,608.83 L150.00,610.45 L150.50,612.03 L151.00,613.56 L151.50,615.06 L152.00,616.52 L152.50,617.94 L153.00,619.32 L153.50,620.67 L154.00,621.99 L154.50,623.28 L155.00,624.53 L155.50,625.75 L156.00,626.95 L156.50,628.11 L157.00,629.25 L157.50,630.36 L158.00,631.44 L158.50,632.50 L159.00,633.54 L159.50,634.55 L160.00,635.54 L160.50,636.51 L161.00,637.45 L161.50,638.38 L162.00,639.28 L162.50,640.17 L163.00,641.04 L163.50,641.88 L164.00,642.71 L164.50,643.53 L165.00,644.32 L165.50,645.10 L166.00,645.86 L166.50,646.61 L167.00,647.34 L167.50,648.06 L168.00,648.77 L168.50,649.45 L169.00,650.13 L169.50,650.79 L170.00,651.44 L170.50,652.08 L171.00,652.70 L171.50,653.32 L172.00,653.92 L172.50,654.51 L173.00,655.09 L173.50,655.66 L174.00,656.21 L174.50,656.76 L175.00,657.30 L175.50,657.83 L176.00,658.34 L176.50,658.85 L177.00,659.35 L177.50,659.84 L178.00,660.33 L178.50,660.80 L179.00,661.27 L179.50,661.73 L180.00,662.18 L180.50,662.62 L181.00,663.05 L181.50,663.48 L182.00,663.90 L182.50,664.31 L183.00,664.72 L183.50,665.12 L184.00,665.51 L184.50,665.90 L185.00,666.28 L185.50,666.65 L186.00,667.02 L186.50,667.39 L187.00,667.74 L187.50,668.09 L188.00,668.44 L188.50,668.78 L189.00,669.11 L189.50,669.44 L190.00,669.77 L190.50,670.09 L191.00,670.40 L191.50,670.71 L192.00,671.02 L192.50,671.32 L193.00,671.62 L193.50,671.91 L194.00,672.20 L194.50,672.48 L195.00,672.76 L195.50,673.04 L196.00,673.31 L196.50,673.58 L197.00,673.84 L197.50,674.10 L198.00,674.36 L198.50,674.61 L199.00,674.86 L199.50,675.10 L200.00,675.35 L200.50,675.59 L201.00,675.82 L201.50,676.05 L202.00,676.28 L202.50,676.51 L203.00,676.73 L203.50,676.95 L204.00,677.17 L204.50,677.38 L205.00,677.60 L205.50,677.80 L206.00,678.01 L206.50,678.21 L207.00,678.41 L207.50,678.61 L208.00,678.81 L208.50,679.00 L209.00,679.19 L209.50,679.38 L210.00,679.57 L210.50,679.75 L211.00,679.93 L211.50,680.11 L212.00,680.29 L212.50,680.46 L213.00,680.63 L213.50,680.80 L214.00,680.97 L214.50,681.14 L215.00,681.30 L215.50,681.46 L216.00,681.62 L216.50,681.78 L217.00,681.94 L217.50,682.09 L218.00,682.24 L218.50,682.40 L219.00,682.54 L219.50,682.69 L220.00,682.84 L220.50,682.98 L221.00,683.12 L221.50,683.26 L222.00,683.40 L222.50,683.54 L223.00,683.68 L223.50,683.81 L224.00,683.94 L224.50,684.07 L225.00,684.20 L225.50,684.33 L226.00,684.46 L226.50,684.59 L227.00,684.71 L227.50,684.83 L228.00,684.95 L228.50,685.07 L229.00,685.19 L229.50,685.31 L230.00,685.43 L230.50,685.54 L231.00,685.66 L231.50,685.77 L232.00,685.88 L232.50,685.99 L233.00,686.10 L233.50,686.21 L234.00,686.31 L234.50,686.42 L235.00,686.52 L235.50,686.63 L236.00,686.73 L236.50,686.83 L237.00,686.93 L237.50,687.03 L238.00,687.13 L238.50,687.23 L239.00,687.32 L239.50,687.42 L240.00,687.51 L240.50,687.61 L241.00,687.70 L241.50,687.79 L242.00,687.88 L242.50,687.97 L243.00,688.06 L243.50,688.15 L244.00,688.24 L244.50,688.32 L245.00,688.41 L245.50,688.49 L246.00,688.58 L246.50,688.66 L247.00,688.74 L247.50,688.82 L248.00,688.91 L248.50,688.99 L249.00,689.06 L249.50,689.14 L250.00,689.22 L250.50,689.30 L251.00,689.37 L251.50,689.45 L252.00,689.53 L252.50,689.60 L253.00,689.67 L253.50,689.75 L254.00,689.82 L254.50,689.89 L255.00,689.96 L255.50,690.03 L256.00,690.10 L256.50,690.17 L257.00,690.24 L257.50,690.31 L258.00,690.37 L258.50,690.44 L259.00,690.51 L259.50,690.57 L260.00,690.64 L260.50,690.70 L261.00,690.76 L261.50,690.83 L262.00,690.89 L262.50,690.95 L263.00,691.01 L263.50,691.08 L264.00,691.14 L264.50,691.20 L265.00,691.26 L265.50,691.32 L266.00,691.37 L266.50,691.43 L267.00,691.49 L267.50,691.55 L268.00,691.60 L268.50,691.66 L269.00,691.71 L269.50,691.77 L270.00,691.82 L270.50,691.88 L271.00,691.93 L271.50,691.99 L272.00,692.04 L272.50,692.09 L273.00,692.14 L273.50,692.20 L274.00,692.25 L274.50,692.30 L275.00,692.35 L275.50,692.40 L276.00,692.45 L276.50,692.50 L277.00,692.55 L277.50,692.60 L278.00,692.64 L278.50,692.69 L279.00,692.74 L279.50,692.79 L280.00,692.83 L280.50,692.88 L281.00,692.92 L281.50,692.97 L282.00,693.02 L282.50,693.06 L283.00,693.11 L283.50,693.15 L284.00,693.19 L284.50,693.24 L285.00,693.28 L285.50,693.32 L286.00,693.37 L286.50,693.41 L287.00,693.45 L287.50,693.49 L288.00,693.53 L288.50,693.57 L289.00,693.62 L289.50,693.66 L290.00,693.70 L290.50,693.74 L291.00,693.78 L291.50,693.81 L292.00,693.85 L292.50,693.89 L293.00,693.93 L293.50,693.97 L294.00,694.01 L294.50,694.04 L295.00,694.08 L295.50,694.12 L296.00,694.16 L296.50,694.19 L297.00,694.23 L297.50,694.26 L298.00,694.30 L298.50,694.34 L299.00,694.37 L299.50,694.41 L300.00,694.44 L300.50,694.48 L301.00,694.51 L301.50,694.54 L302.00,694.58 L302.50,694.61 L303.00,694.65 L303.50,694.68 L304.00,694.71 L304.50,694.74 L305.00,694.78 L305.50,694.81 L306.00,694.84 L306.50,694.87 L307.00,694.91 L307.50,694.94 L308.00,694.97 L308.50,695.00 L309.00,695.03 L309.50,695.06 L310.00,695.09 L310.50,695.12 L311.00,695.15 L311.50,695.18 L312.00,695.21 L312.50,695.24 L313.00,695.27 L313.50,695.30 L314.00,695.33 L314.50,695.36 L315.00,695.39 L315.50,695.41 L316.00,695.44 L316.50,695.47 L317.00,695.50 L317.50,695.53 L318.00,695.55 L318.50,695.58 L319.00,695.61 L319.50,695.63 L320.00,695.66 L320.50,695.69 L321.00,695.71 L321.50,695.74 L322.00,695.77 L322.50,695.79 L323.00,695.82 L323.50,695.84 L324.00,695.87 L324.50,695.90 L325.00,695.92 L325.50,695.95 L326.00,695.97 L326.50,696.00 L327.00,696.02 L327.50,696.04 L328.00,696.07 L328.50,696.09 L329.00,696.12 L329.50,696.14 L330.00,696.16 L330.50,696.19 L331.00,696.21 L331.50,696.24 L332.00,696.26 L332.50,696.28 L333.00,696.30 L333.50,696.33 L334.00,696.35 L334.50,696.37 L335.00,696.40 L335.50,696.42 L336.00,696.44 L336.50,696.46 L337.00,696.48 L337.50,696.51 L338.00,696.53 L338.50,696.55 L339.00,696.57 L339.50,696.59 L340.00,696.61 L340.50,696.63 L341.00,696.65 L341.50,696.68 L342.00,696.70 L342.50,696.72 L343.00,696.74 L343.50,696.76 L344.00,696.78 L344.50,696.80 L345.00,696.82 L345.50,696.84 L346.00,696.86 L346.50,696.88 L347.00,696.90 L347.50,696.92 L348.00,696.94 L348.50,696.96 L349.00,696.98 L349.50,696.99 L350.00,697.01 L350.50,697.03 L351.00,697.05 L351.50,697.07 L352.00,697.09 L352.50,697.11 L353.00,697.13 L353.50,697.14 L354.00,697.16 L354.50,697.18 L355.00,697.20 L355.50,697.22 L356.00,697.23 L356.50,697.25 L357.00,697.27 L357.50,697.29 L358.00,697.31 L358.50,697.32 L359.00,697.34 L359.50,697.36 L360.00,697.37 L360.50,697.39 L361.00,697.41 L361.50,697.43 L362.00,697.44 L362.50,697.46 L363.00,697.48 L363.50,697.49 L364.00,697.51 L364.50,697.53 L365.00,697.54 L365.50,697.56 L366.00,697.57 L366.50,697.59 L367.00,697.61 L367.50,697.62 L368.00,697.64 L368.50,697.65 L369.00,697.67 L369.50,697.69 L370.00,697.70 L370.50,697.72 L371.00,697.73 L371.50,697.75 L372.00,697.76 L372.50,697.78 L373.00,697.79 L373.50,697.81 L374.00,697.82 L374.50,697.84 L375.00,697.85 L375.50,697.87 L376.00,697.88 L376.50,697.90 L377.00,697.91 L377.50,697.93 L378.00,697.94 L378.50,697.96 L379.00,697.97 L379.50,697.98 L380.00,698.00 L380.50,698.01 L381.00,698.03 L381.50,698.04 L382.00,698.05 L382.50,698.07 L383.00,698.08 L383.50,698.10 L384.00,698.11 L384.50,698.12 L385.00,698.14 L385.50,698.15 L386.00,698.16 L386.50,698.18 L387.00,698.19 L387.50,698.20 L388.00,698.22 L388.50,698.23 L389.00,698.24 L389.50,698.26 L390.00,698.27 L390.50,698.28 L391.00,698.30 L391.50,698.31 L392.00,698.32 L392.50,698.33 L393.00,698.35 L393.50,698.36 L394.00,698.37 L394.50,698.38 L395.00,698.40 L395.50,698.41 L396.00,698.42 L396.50,698.43 L397.00,698.45 L397.50,698.46 L398.00,698.47 L398.50,698.48 L399.00,698.50 L399.50,698.51 L400.00,698.52 L400.50,698.53 L401.00,698.54 L401.50,698.56 L402.00,698.57 L402.50,698.58 L403.00,698.59 L403.50,698.60 L404.00,698.61 L404.50,698.63 L405.00,698.64 L405.50,698.65 L406.00,698.66 L406.50,698.67 L407.00,698.68 L407.50,698.69 L408.00,698.71 L408.50,698.72 L409.00,698.73 L409.50,698.74 L410.00,698.75 L410.50,698.76 L411.00,698.77 L411.50,698.78 L412.00,698.79 L412.50,698.80 L413.00,698.82 L413.50,698.83 L414.00,698.84 L414.50,698.85 L415.00,698.86 L415.50,698.87 L416.00,698.88 L416.50,698.89 L417.00,698.90 L417.50,698.91 L418.00,698.92 L418.50,698.93 L419.00,698.94 L419.50,698.95 L420.00,698.96 L420.50,698.97 L421.00,698.98 L421.50,698.99 L422.00,699.00 L422.50,699.01 L423.00,699.02 L423.50,699.03 L424.00,699.04 L424.50,699.05 L425.00,699.06 L425.50,699.07 L426.00,699.08 L426.50,699.09 L427.00,699.10 L427.50,699.11 L428.00,699.12 L428.50,699.13 L429.00,699.14 L429.50,699.15 L430.00,699.16 L430.50,699.17 L431.00,699.18 L431.50,699.19 L432.00,699.20 L432.50,699.21 L433.00,699.22 L433.50,699.23 L434.00,699.24 L434.50,699.25 L435.00,699.26 L435.50,699.27 L436.00,699.28 L436.50,699.28 L437.00,699.29 L437.50,699.30 L438.00,699.31 L438.50,699.32 L439.00,699.33 L439.50,699.34 L440.00,699.35 L440.50,699.36 L441.00,699.37 L441.50,699.38 L442.00,699.38 L442.50,699.39 L443.00,699.40 L443.50,699.41 L444.00,699.42 L444.50,699.43 L445.00,699.44 L445.50,699.45 L446.00,699.45 L446.50,699.46 L447.00,699.47 L447.50,699.48 L448.00,699.49 L448.50,699.50 L449.00,699.51 L449.50,699.51 L450.00,699.52 L450.50,699.53 L451.00,699.54 L451.50,699.55 L452.00,699.56 L452.50,699.56 L453.00,699.57 L453.50,699.58 L454.00,699.59 L454.50,699.60 L455.00,699.61 L455.50,699.61 L456.00,699.62 L456.50,699.63 L457.00,699.64 L457.50,699.65 L458.00,699.66 L458.50,699.66 L459.00,699.67 L459.50,699.68 L460.00,699.69 L460.50,699.70 L461.00,699.70 L461.50,699.71 L462.00,699.72 L462.50,699.73 L463.00,699.73 L463.50,699.74 L464.00,699.75 L464.50,699.76 L465.00,699.77 L465.50,699.77 L466.00,699.78 L466.50,699.79 L467.00,699.80 L467.50,699.80 L468.00,699.81 L468.50,699.82 L469.00,699.83 L469.50,699.84 L470.00,699.84 L470.50,699.85 L471.00,699.86 L471.50,699.87 L472.00,699.87 L472.50,699.88 L473.00,699.89 L473.50,699.90 L474.00,699.90 L474.50,699.91 L475.00,699.92 L475.50,699.92 L476.00,699.93 L476.50,699.94 L477.00,699.95 L477.50,699.95 L478.00,699.96 L478.50,699.97 L479.00,699.98 L479.50,699.98 L480.00,699.99 L480.50,700.00 L481.00,700.00 L481.50,700.01 L482.00,700.02 L482.50,700.03 L483.00,700.03 L483.50,700.04 L484.00,700.05 L484.50,700.05 L485.00,700.06 L485.50,700.07 L486.00,700.08 L486.50,700.08 L487.00,700.09 L487.50,700.10 L488.00,700.10 L488.50,700.11 L489.00,700.12 L489.50,700.12 L490.00,700.13 L490.50,700.14 L491.00,700.14 L491.50,700.15 L492.00,700.16 L492.50,700.16 L493.00,700.17 L493.50,700.18 L494.00,700.19 L494.50,700.19 L495.00,700.20 L495.50,700.21 L496.00,700.21 L496.50,700.22 L497.00,700.23 L497.50,700.23 L498.00,700.24 L498.50,700.25 L499.00,700.25 L499.50,700.26 L500.00,700.26 L500.50,700.27 L501.00,700.28 L501.50,700.28 L502.00,700.29 L502.50,700.30 L503.00,700.30 L503.50,700.31 L504.00,700.32 L504.50,700.32 L505.00,700.33 L505.50,700.34 L506.00,700.34 L506.50,700.35 L507.00,700.36 L507.50,700.36 L508.00,700.37 L508.50,700.37 L509.00,700.38 L509.50,700.39" fill="none" stroke="#000" stroke-width="2.0" stroke-linejoin="round"/>
<line x1="157.51" y1="754.7" x2="157.51" y2="751.3" stroke="#000" stroke-width="1.6"/>
<line x1="174.32" y1="754.7" x2="174.32" y2="748.7" stroke="#000" stroke-width="1.6"/>
<line x1="191.13" y1="754.7" x2="191.13" y2="751.3" stroke="#000" stroke-width="1.6"/>
<line x1="207.94" y1="754.7" x2="207.94" y2="751.3" stroke="#000" stroke-width="1.6"/>
<line x1="224.75" y1="754.7" x2="224.75" y2="751.3" stroke="#000" stroke-width="1.6"/>
<line x1="241.55" y1="754.7" x2="241.55" y2="751.3" stroke="#000" stroke-width="1.6"/>
<line x1="258.36" y1="754.7" x2="258.36" y2="748.7" stroke="#000" stroke-width="1.6"/>
<line x1="275.17" y1="754.7" x2="275.17" y2="751.3" stroke="#000" stroke-width="1.6"/>
<line x1="291.98" y1="754.7" x2="291.98" y2="751.3" stroke="#000" stroke-width="1.6"/>
<line x1="308.79" y1="754.7" x2="308.79" y2="751.3" stroke="#000" stroke-width="1.6"/>
<line x1="325.60" y1="754.7" x2="325.60" y2="751.3" stroke="#000" stroke-width="1.6"/>
<line x1="342.41" y1="754.7" x2="342.41" y2="748.7" stroke="#000" stroke-width="1.6"/>
<line x1="359.22" y1="754.7" x2="359.22" y2="751.3" stroke="#000" stroke-width="1.6"/>
<line x1="376.03" y1="754.7" x2="376.03" y2="751.3" stroke="#000" stroke-width="1.6"/>
<line x1="392.84" y1="754.7" x2="392.84" y2="751.3" stroke="#000" stroke-width="1.6"/>
<line x1="409.65" y1="754.7" x2="409.65" y2="751.3" stroke="#000" stroke-width="1.6"/>
<line x1="426.45" y1="754.7" x2="426.45" y2="748.7" stroke="#000" stroke-width="1.6"/>
<line x1="443.26" y1="754.7" x2="443.26" y2="751.3" stroke="#000" stroke-width="1.6"/>
<line x1="460.07" y1="754.7" x2="460.07" y2="751.3" stroke="#000" stroke-width="1.6"/>
<line x1="476.88" y1="754.7" x2="476.88" y2="751.3" stroke="#000" stroke-width="1.6"/>
<line x1="493.69" y1="754.7" x2="493.69" y2="751.3" stroke="#000" stroke-width="1.6"/>
<text transform="translate(174.32 775.70) scale(1.08 1)" font-size="18" text-anchor="middle" fill="#000">0.5</text>
<text transform="translate(258.36 775.70) scale(1.08 1)" font-size="18" text-anchor="middle" fill="#000">1.0</text>
<text transform="translate(342.41 775.70) scale(1.08 1)" font-size="18" text-anchor="middle" fill="#000">1.5</text>
<text transform="translate(426.45 775.70) scale(1.08 1)" font-size="18" text-anchor="middle" fill="#000">2.0</text>
<text transform="translate(510.50 775.70) scale(1.08 1)" font-size="18" text-anchor="middle" fill="#000">2.5</text>
<line x1="140.7" y1="736.25" x2="143.70" y2="736.25" stroke="#000" stroke-width="1.6"/>
<line x1="140.7" y1="717.80" x2="146.70" y2="717.80" stroke="#000" stroke-width="1.6"/>
<line x1="140.7" y1="699.35" x2="143.70" y2="699.35" stroke="#000" stroke-width="1.6"/>
<line x1="140.7" y1="680.90" x2="146.70" y2="680.90" stroke="#000" stroke-width="1.6"/>
<line x1="140.7" y1="662.45" x2="143.70" y2="662.45" stroke="#000" stroke-width="1.6"/>
<line x1="140.7" y1="644.00" x2="146.70" y2="644.00" stroke="#000" stroke-width="1.6"/>
<line x1="140.7" y1="625.55" x2="143.70" y2="625.55" stroke="#000" stroke-width="1.6"/>
<line x1="140.7" y1="607.10" x2="146.70" y2="607.10" stroke="#000" stroke-width="1.6"/>
<line x1="140.7" y1="588.65" x2="143.70" y2="588.65" stroke="#000" stroke-width="1.6"/>
<line x1="140.7" y1="570.20" x2="146.70" y2="570.20" stroke="#000" stroke-width="1.6"/>
<line x1="140.7" y1="551.75" x2="143.70" y2="551.75" stroke="#000" stroke-width="1.6"/>
<line x1="140.7" y1="533.30" x2="146.70" y2="533.30" stroke="#000" stroke-width="1.6"/>
<line x1="140.7" y1="514.85" x2="143.70" y2="514.85" stroke="#000" stroke-width="1.6"/>
<line x1="140.7" y1="496.40" x2="146.70" y2="496.40" stroke="#000" stroke-width="1.6"/>
<line x1="140.7" y1="477.95" x2="143.70" y2="477.95" stroke="#000" stroke-width="1.6"/>
<text transform="translate(134.40 761.00) scale(1.08 1)" font-size="18" text-anchor="end" fill="#000">1.45</text>
<text transform="translate(134.40 724.10) scale(1.08 1)" font-size="18" text-anchor="end" fill="#000">1.46</text>
<text transform="translate(134.40 687.20) scale(1.08 1)" font-size="18" text-anchor="end" fill="#000">1.47</text>
<text transform="translate(134.40 650.30) scale(1.08 1)" font-size="18" text-anchor="end" fill="#000">1.48</text>
<text transform="translate(134.40 613.40) scale(1.08 1)" font-size="18" text-anchor="end" fill="#000">1.49</text>
<text transform="translate(134.40 576.50) scale(1.08 1)" font-size="18" text-anchor="end" fill="#000">1.50</text>
<text transform="translate(134.40 539.60) scale(1.08 1)" font-size="18" text-anchor="end" fill="#000">1.51</text>
<text transform="translate(134.40 502.70) scale(1.08 1)" font-size="18" text-anchor="end" fill="#000">1.52</text>
<text transform="translate(134.40 465.80) scale(1.08 1)" font-size="18" text-anchor="end" fill="#000">1.53</text>
<line x1="510.5" y1="736.25" x2="507.30" y2="736.25" stroke="#f00" stroke-width="1.6"/>
<line x1="510.5" y1="717.80" x2="504.00" y2="717.80" stroke="#f00" stroke-width="1.6"/>
<line x1="510.5" y1="699.35" x2="507.30" y2="699.35" stroke="#f00" stroke-width="1.6"/>
<line x1="510.5" y1="680.90" x2="504.00" y2="680.90" stroke="#f00" stroke-width="1.6"/>
<line x1="510.5" y1="662.45" x2="507.30" y2="662.45" stroke="#f00" stroke-width="1.6"/>
<line x1="510.5" y1="644.00" x2="504.00" y2="644.00" stroke="#f00" stroke-width="1.6"/>
<line x1="510.5" y1="625.55" x2="507.30" y2="625.55" stroke="#f00" stroke-width="1.6"/>
<line x1="510.5" y1="607.10" x2="504.00" y2="607.10" stroke="#f00" stroke-width="1.6"/>
<line x1="510.5" y1="588.65" x2="507.30" y2="588.65" stroke="#f00" stroke-width="1.6"/>
<line x1="510.5" y1="570.20" x2="504.00" y2="570.20" stroke="#f00" stroke-width="1.6"/>
<line x1="510.5" y1="551.75" x2="507.30" y2="551.75" stroke="#f00" stroke-width="1.6"/>
<line x1="510.5" y1="533.30" x2="504.00" y2="533.30" stroke="#f00" stroke-width="1.6"/>
<line x1="510.5" y1="514.85" x2="507.30" y2="514.85" stroke="#f00" stroke-width="1.6"/>
<line x1="510.5" y1="496.40" x2="504.00" y2="496.40" stroke="#f00" stroke-width="1.6"/>
<line x1="510.5" y1="477.95" x2="507.30" y2="477.95" stroke="#f00" stroke-width="1.6"/>
<text transform="translate(516.50 761.00) scale(1.08 1)" font-size="18" text-anchor="start" fill="#f00">-0.10</text>
<text transform="translate(516.50 724.10) scale(1.08 1)" font-size="18" text-anchor="start" fill="#f00">-0.08</text>
<text transform="translate(516.50 687.20) scale(1.08 1)" font-size="18" text-anchor="start" fill="#f00">-0.05</text>
<text transform="translate(516.50 650.30) scale(1.08 1)" font-size="18" text-anchor="start" fill="#f00">-0.03</text>
<text transform="translate(516.50 613.40) scale(1.08 1)" font-size="18" text-anchor="start" fill="#f00">0.00</text>
<text transform="translate(516.50 576.50) scale(1.08 1)" font-size="18" text-anchor="start" fill="#f00">0.03</text>
<text transform="translate(516.50 539.60) scale(1.08 1)" font-size="18" text-anchor="start" fill="#f00">0.05</text>
<text transform="translate(516.50 502.70) scale(1.08 1)" font-size="18" text-anchor="start" fill="#f00">0.08</text>
<text transform="translate(516.50 465.80) scale(1.08 1)" font-size="18" text-anchor="start" fill="#f00">0.10</text>
<path d="M504.5,459.5 L140.7,459.5 L140.7,754.7 L504.5,754.7" fill="none" stroke="#000" stroke-width="2.4" stroke-linecap="square"/>
<path d="M504.5,459.5 L510.5,459.5 L510.5,754.7 L504.5,754.7" fill="none" stroke="#f00" stroke-width="2.4" stroke-linecap="square"/>
<text x="82.6" y="597.5" font-size="22" text-anchor="middle" fill="#000" transform="rotate(-90 82.6 597.5)">Refractive index (<tspan font-style="italic">n</tspan>)</text>
<text x="578.0" y="606.6" font-size="22.5" text-anchor="middle" fill="#f00" transform="rotate(-90 578 606.6)">Extinction coefficient (<tspan font-style="italic">k</tspan>)</text>
<text x="324.7" y="808.3" font-size="22" text-anchor="middle" fill="#000" >W<tspan dx="3">avelength (µm)</tspan></text>
<path d="M679.90,481.09 L680.15,486.75 L680.40,492.20 L680.65,497.45 L680.90,502.53 L681.15,507.42 L681.40,512.15 L681.65,516.72 L681.90,521.13 L682.15,525.39 L682.40,529.52 L682.65,533.50 L682.90,537.36 L683.15,541.09 L683.40,544.71 L683.65,548.20 L683.90,551.59 L684.15,554.87 L684.40,558.05 L684.65,561.14 L684.90,564.13 L685.15,567.03 L685.40,569.84 L685.65,572.57 L685.90,575.21 L686.15,577.78 L686.40,580.28 L686.65,582.70 L686.90,585.06 L687.15,587.35 L687.40,589.57 L687.65,591.73 L687.90,593.83 L688.15,595.88 L688.40,597.87 L688.65,599.80 L688.90,601.68 L689.15,603.51 L689.40,605.30 L689.65,607.03 L689.90,608.72 L690.15,610.37 L690.40,611.98 L690.65,613.54 L690.90,615.06 L691.15,616.55 L691.40,617.99 L691.65,619.41 L691.90,620.78 L692.15,622.13 L692.40,623.44 L692.65,624.71 L692.90,625.96 L693.15,627.18 L693.40,628.37 L693.65,629.53 L693.90,630.66 L694.15,631.77 L694.40,632.85 L694.65,633.90 L694.90,634.93 L695.15,635.94 L695.40,636.93 L695.65,637.89 L695.90,638.83 L696.15,639.75 L696.40,640.65 L696.65,641.53 L696.90,642.39 L697.15,643.23 L697.40,644.06 L697.65,644.86 L697.90,645.65 L698.15,646.43 L698.40,647.18 L698.65,647.92 L698.90,648.65 L699.15,649.36 L699.40,650.05 L699.65,650.73 L699.90,651.40 L700.15,652.05 L700.40,652.69 L700.65,653.32 L700.90,653.93 L701.15,654.54 L701.40,655.13 L701.65,655.71 L701.90,656.27 L702.15,656.83 L702.40,657.38 L702.65,657.91 L702.90,658.44 L703.15,658.95 L703.40,659.46 L703.65,659.95 L703.90,660.44 L704.15,660.91 L704.40,661.38 L704.65,661.84 L704.90,662.29 L705.15,662.74 L705.40,663.17 L705.65,663.60 L705.90,664.02 L706.15,664.43 L706.40,664.83 L706.65,665.23 L706.90,665.62 L707.15,666.01 L707.40,666.38 L707.65,666.75 L707.90,667.12 L708.15,667.47 L708.40,667.83 L708.65,668.17 L708.90,668.51 L709.15,668.84 L709.40,669.17 L709.65,669.49 L709.90,669.81 L710.15,670.12 L710.40,670.43 L710.65,670.73 L710.90,671.03 L711.15,671.32 L711.40,671.61 L711.65,671.89 L711.90,672.17 L712.15,672.44 L712.40,672.71 L712.65,672.98 L712.90,673.24 L713.15,673.49 L713.40,673.75 L713.65,674.00 L713.90,674.24 L714.15,674.48 L714.40,674.72 L714.65,674.95 L714.90,675.18 L715.15,675.41 L715.40,675.63 L715.65,675.85 L715.90,676.07 L716.15,676.28 L716.40,676.49 L716.65,676.70 L716.90,676.90 L717.15,677.10 L717.40,677.30 L717.65,677.50 L717.90,677.69 L718.15,677.88 L718.40,678.07 L718.65,678.25 L718.90,678.43 L719.15,678.61 L719.40,678.79 L719.65,678.96 L719.90,679.13 L720.15,679.30 L720.40,679.47 L720.65,679.63 L720.90,679.80 L721.15,679.96 L721.40,680.11 L721.65,680.27 L721.90,680.42 L722.15,680.58 L722.40,680.73 L722.65,680.87 L722.90,681.02 L723.15,681.16 L723.40,681.30 L723.65,681.44 L723.90,681.58 L724.15,681.72 L724.40,681.85 L724.65,681.99 L724.90,682.12 L725.15,682.25 L725.40,682.37 L725.65,682.50 L725.90,682.62 L726.15,682.75 L726.40,682.87 L726.65,682.99 L726.90,683.11 L727.15,683.22 L727.40,683.34 L727.65,683.45 L727.90,683.57 L728.15,683.68 L728.40,683.79 L728.65,683.90 L728.90,684.00 L729.15,684.11 L729.40,684.21 L729.65,684.32 L729.90,684.42 L730.15,684.52 L730.40,684.62 L730.65,684.72 L730.90,684.82 L731.15,684.91 L731.40,685.01 L731.65,685.10 L731.90,685.20 L732.15,685.29 L732.40,685.38 L732.65,685.47 L732.90,685.56 L733.15,685.65 L733.40,685.73 L733.65,685.82 L733.90,685.90 L734.15,685.99 L734.40,686.07 L734.65,686.15 L734.90,686.23 L735.15,686.31 L735.40,686.39 L735.65,686.47 L735.90,686.55 L736.15,686.63 L736.40,686.70 L736.65,686.78 L736.90,686.85 L737.15,686.93 L737.40,687.00 L737.65,687.07 L737.90,687.14 L738.15,687.21 L738.40,687.28 L738.65,687.35 L738.90,687.42 L739.15,687.49 L739.40,687.56 L739.65,687.62 L739.90,687.69 L740.15,687.75 L740.40,687.82 L740.65,687.88 L740.90,687.95 L741.15,688.01 L741.40,688.07 L741.65,688.13 L741.90,688.19 L742.15,688.25 L742.40,688.31 L742.65,688.37 L742.90,688.43 L743.15,688.49 L743.40,688.54 L743.65,688.60 L743.90,688.66 L744.15,688.71 L744.40,688.77 L744.65,688.82 L744.90,688.88 L745.15,688.93 L745.40,688.98 L745.65,689.04 L745.90,689.09 L746.15,689.14 L746.40,689.19 L746.65,689.24 L746.90,689.29 L747.15,689.34 L747.40,689.39 L747.65,689.44 L747.90,689.49 L748.15,689.54 L748.40,689.59 L748.65,689.63 L748.90,689.68 L749.15,689.73 L749.40,689.77 L749.65,689.82 L749.90,689.86 L750.15,689.91 L750.40,689.95 L750.65,690.00 L750.90,690.04 L751.15,690.08 L751.40,690.13 L751.65,690.17 L751.90,690.21 L752.15,690.25 L752.40,690.29 L752.65,690.34 L752.90,690.38 L753.15,690.42 L753.40,690.46 L753.65,690.50 L753.90,690.54 L754.15,690.58 L754.40,690.61 L754.65,690.65 L754.90,690.69 L755.15,690.73 L755.40,690.77 L755.65,690.80 L755.90,690.84 L756.15,690.88 L756.40,690.91 L756.65,690.95 L756.90,690.99 L757.15,691.02 L757.40,691.06 L757.65,691.09 L757.90,691.13 L758.15,691.16 L758.40,691.20 L758.65,691.23 L758.90,691.27 L759.15,691.30 L759.40,691.33 L759.65,691.37 L759.90,691.40 L760.15,691.43 L760.40,691.46 L760.65,691.50 L760.90,691.53 L761.15,691.56 L761.40,691.59 L761.65,691.62 L761.90,691.65 L762.15,691.68 L762.40,691.71 L762.65,691.74 L762.90,691.78 L763.15,691.81 L763.40,691.83 L763.65,691.86 L763.90,691.89 L764.15,691.92 L764.40,691.95 L764.65,691.98 L764.90,692.01 L765.15,692.04 L765.40,692.07 L765.65,692.09 L765.90,692.12 L766.15,692.15 L766.40,692.18 L766.65,692.20 L766.90,692.23 L767.15,692.26 L767.40,692.29 L767.65,692.31 L767.90,692.34 L768.15,692.36 L768.40,692.39 L768.65,692.42 L768.90,692.44 L769.15,692.47 L769.40,692.49 L769.65,692.52 L769.90,692.54 L770.15,692.57 L770.40,692.59 L770.65,692.62 L770.90,692.64 L771.15,692.67 L771.40,692.69 L771.65,692.72 L771.90,692.74 L772.15,692.76 L772.40,692.79 L772.65,692.81 L772.90,692.84 L773.15,692.86 L773.40,692.88 L773.65,692.91 L773.90,692.93 L774.15,692.95 L774.40,692.97 L774.65,693.00 L774.90,693.02 L775.15,693.04 L775.40,693.06 L775.65,693.09 L775.90,693.11 L776.15,693.13 L776.40,693.15 L776.65,693.17 L776.90,693.19 L777.15,693.22 L777.40,693.24 L777.65,693.26 L777.90,693.28 L778.15,693.30 L778.40,693.32 L778.65,693.34 L778.90,693.36 L779.15,693.38 L779.40,693.40 L779.65,693.42 L779.90,693.44 L780.15,693.46 L780.40,693.48 L780.65,693.50 L780.90,693.52 L781.15,693.54 L781.40,693.56 L781.65,693.58 L781.90,693.60 L782.15,693.62 L782.40,693.64 L782.65,693.66 L782.90,693.68 L783.15,693.70 L783.40,693.72 L783.65,693.74 L783.90,693.75 L784.15,693.77 L784.40,693.79 L784.65,693.81 L784.90,693.83 L785.15,693.85 L785.40,693.86 L785.65,693.88 L785.90,693.90 L786.15,693.92 L786.40,693.94 L786.65,693.95 L786.90,693.97 L787.15,693.99 L787.40,694.01 L787.65,694.03 L787.90,694.04 L788.15,694.06 L788.40,694.08 L788.65,694.09 L788.90,694.11 L789.15,694.13 L789.40,694.15 L789.65,694.16 L789.90,694.18 L790.15,694.20 L790.40,694.21 L790.65,694.23 L790.90,694.25 L791.15,694.26 L791.40,694.28 L791.65,694.30 L791.90,694.31 L792.15,694.33 L792.40,694.35 L792.65,694.36 L792.90,694.38 L793.15,694.39 L793.40,694.41 L793.65,694.43 L793.90,694.44 L794.15,694.46 L794.40,694.47 L794.65,694.49 L794.90,694.51 L795.15,694.52 L795.40,694.54 L795.65,694.55 L795.90,694.57 L796.15,694.58 L796.40,694.60 L796.65,694.61 L796.90,694.63 L797.15,694.64 L797.40,694.66 L797.65,694.67 L797.90,694.69 L798.15,694.70 L798.40,694.72 L798.65,694.73 L798.90,694.75 L799.15,694.76 L799.40,694.78 L799.65,694.79 L799.90,694.81 L800.15,694.82 L800.40,694.84 L800.65,694.85 L800.90,694.87 L801.15,694.88 L801.40,694.90 L801.65,694.91 L801.90,694.92 L802.15,694.94 L802.40,694.95 L802.65,694.97 L802.90,694.98 L803.15,695.00 L803.40,695.01 L803.65,695.02 L803.90,695.04 L804.15,695.05 L804.40,695.07 L804.65,695.08 L804.90,695.09 L805.15,695.11 L805.40,695.12 L805.65,695.13 L805.90,695.15 L806.15,695.16 L806.40,695.18 L806.65,695.19 L806.90,695.20 L807.15,695.22 L807.40,695.23 L807.65,695.24 L807.90,695.26 L808.15,695.27 L808.40,695.28 L808.65,695.30 L808.90,695.31 L809.15,695.32 L809.40,695.34 L809.65,695.35 L809.90,695.36 L810.15,695.38 L810.40,695.39 L810.65,695.40 L810.90,695.42 L811.15,695.43 L811.40,695.44 L811.65,695.45 L811.90,695.47 L812.15,695.48 L812.40,695.49 L812.65,695.51 L812.90,695.52 L813.15,695.53 L813.40,695.54 L813.65,695.56 L813.90,695.57 L814.15,695.58 L814.40,695.60 L814.65,695.61 L814.90,695.62 L815.15,695.63 L815.40,695.65 L815.65,695.66 L815.90,695.67 L816.15,695.68 L816.40,695.70 L816.65,695.71 L816.90,695.72 L817.15,695.73 L817.40,695.74 L817.65,695.76 L817.90,695.77 L818.15,695.78 L818.40,695.79 L818.65,695.81 L818.90,695.82 L819.15,695.83 L819.40,695.84 L819.65,695.86 L819.90,695.87 L820.15,695.88 L820.40,695.89 L820.65,695.90 L820.90,695.92 L821.15,695.93 L821.40,695.94 L821.65,695.95 L821.90,695.96 L822.15,695.98 L822.40,695.99 L822.65,696.00 L822.90,696.01 L823.15,696.02 L823.40,696.04 L823.65,696.05 L823.90,696.06 L824.15,696.07 L824.40,696.08 L824.65,696.09 L824.90,696.11 L825.15,696.12 L825.40,696.13 L825.65,696.14 L825.90,696.15 L826.15,696.16 L826.40,696.18 L826.65,696.19 L826.90,696.20 L827.15,696.21 L827.40,696.22 L827.65,696.23 L827.90,696.25 L828.15,696.26 L828.40,696.27 L828.65,696.28 L828.90,696.29 L829.15,696.30 L829.40,696.31 L829.65,696.33 L829.90,696.34 L830.15,696.35 L830.40,696.36 L830.65,696.37 L830.90,696.38 L831.15,696.39 L831.40,696.41 L831.65,696.42 L831.90,696.43 L832.15,696.44 L832.40,696.45 L832.65,696.46 L832.90,696.47 L833.15,696.49 L833.40,696.50 L833.65,696.51 L833.90,696.52 L834.15,696.53 L834.40,696.54 L834.65,696.55 L834.90,696.56 L835.15,696.57 L835.40,696.59 L835.65,696.60 L835.90,696.61 L836.15,696.62 L836.40,696.63 L836.65,696.64 L836.90,696.65 L837.15,696.66 L837.40,696.67 L837.65,696.69 L837.90,696.70 L838.15,696.71 L838.40,696.72 L838.65,696.73 L838.90,696.74 L839.15,696.75 L839.40,696.76 L839.65,696.77 L839.90,696.79 L840.15,696.80 L840.40,696.81 L840.65,696.82 L840.90,696.83 L841.15,696.84 L841.40,696.85 L841.65,696.86 L841.90,696.87 L842.15,696.88 L842.40,696.89 L842.65,696.91 L842.90,696.92 L843.15,696.93 L843.40,696.94 L843.65,696.95 L843.90,696.96 L844.15,696.97 L844.40,696.98 L844.65,696.99 L844.90,697.00 L845.15,697.01 L845.40,697.02 L845.65,697.04 L845.90,697.05 L846.15,697.06 L846.40,697.07 L846.65,697.08 L846.90,697.09 L847.15,697.10 L847.40,697.11 L847.65,697.12 L847.90,697.13 L848.15,697.14 L848.40,697.15 L848.65,697.16 L848.90,697.18 L849.15,697.19 L849.40,697.20 L849.65,697.21 L849.90,697.22 L850.15,697.23 L850.40,697.24 L850.65,697.25 L850.90,697.26 L851.15,697.27 L851.40,697.28 L851.65,697.29 L851.90,697.30 L852.15,697.31 L852.40,697.32 L852.65,697.34 L852.90,697.35 L853.15,697.36 L853.40,697.37 L853.65,697.38 L853.90,697.39 L854.15,697.40 L854.40,697.41 L854.65,697.42 L854.90,697.43 L855.15,697.44 L855.40,697.45 L855.65,697.46 L855.90,697.47 L856.15,697.48 L856.40,697.49 L856.65,697.51 L856.90,697.52 L857.15,697.53 L857.40,697.54 L857.65,697.55 L857.90,697.56 L858.15,697.57 L858.40,697.58 L858.65,697.59 L858.90,697.60 L859.15,697.61 L859.40,697.62 L859.65,697.63 L859.90,697.64 L860.15,697.65 L860.40,697.66 L860.65,697.67 L860.90,697.68 L861.15,697.70 L861.40,697.71 L861.65,697.72 L861.90,697.73 L862.15,697.74 L862.40,697.75 L862.65,697.76 L862.90,697.77 L863.15,697.78 L863.40,697.79 L863.65,697.80 L863.90,697.81 L864.15,697.82 L864.40,697.83 L864.65,697.84 L864.90,697.85 L865.15,697.86 L865.40,697.87 L865.65,697.88 L865.90,697.90 L866.15,697.91 L866.40,697.92 L866.65,697.93 L866.90,697.94 L867.15,697.95 L867.40,697.96 L867.65,697.97 L867.90,697.98 L868.15,697.99 L868.40,698.00 L868.65,698.01 L868.90,698.02 L869.15,698.03 L869.40,698.04 L869.65,698.05 L869.90,698.06 L870.15,698.07 L870.40,698.08 L870.65,698.09 L870.90,698.11 L871.15,698.12 L871.40,698.13 L871.65,698.14 L871.90,698.15 L872.15,698.16 L872.40,698.17 L872.65,698.18 L872.90,698.19 L873.15,698.20 L873.40,698.21 L873.65,698.22 L873.90,698.23 L874.15,698.24 L874.40,698.25 L874.65,698.26 L874.90,698.27 L875.15,698.28 L875.40,698.29 L875.65,698.30 L875.90,698.32 L876.15,698.33 L876.40,698.34 L876.65,698.35 L876.90,698.36 L877.15,698.37 L877.40,698.38 L877.65,698.39 L877.90,698.40 L878.15,698.41 L878.40,698.42 L878.65,698.43 L878.90,698.44 L879.15,698.45 L879.40,698.46 L879.65,698.47 L879.90,698.48 L880.15,698.49 L880.40,698.50 L880.65,698.52 L880.90,698.53 L881.15,698.54 L881.40,698.55 L881.65,698.56 L881.90,698.57 L882.15,698.58 L882.40,698.59 L882.65,698.60 L882.90,698.61 L883.15,698.62 L883.40,698.63 L883.65,698.64 L883.90,698.65 L884.15,698.66 L884.40,698.67 L884.65,698.68 L884.90,698.69 L885.15,698.70 L885.40,698.72 L885.65,698.73 L885.90,698.74 L886.15,698.75 L886.40,698.76 L886.65,698.77 L886.90,698.78 L887.15,698.79 L887.40,698.80 L887.65,698.81 L887.90,698.82 L888.15,698.83 L888.40,698.84 L888.65,698.85 L888.90,698.86 L889.15,698.87 L889.40,698.88 L889.65,698.90 L889.90,698.91 L890.15,698.92 L890.40,698.93 L890.65,698.94 L890.90,698.95 L891.15,698.96 L891.40,698.97 L891.65,698.98 L891.90,698.99 L892.15,699.00 L892.40,699.01 L892.65,699.02 L892.90,699.03 L893.15,699.04 L893.40,699.05 L893.65,699.07 L893.90,699.08 L894.15,699.09 L894.40,699.10 L894.65,699.11 L894.90,699.12 L895.15,699.13 L895.40,699.14 L895.65,699.15 L895.90,699.16 L896.15,699.17 L896.40,699.18 L896.65,699.19 L896.90,699.20 L897.15,699.21 L897.40,699.22 L897.65,699.24 L897.90,699.25 L898.15,699.26 L898.40,699.27 L898.65,699.28 L898.90,699.29 L899.15,699.30 L899.40,699.31 L899.65,699.32 L899.90,699.33 L900.15,699.34 L900.40,699.35 L900.65,699.36 L900.90,699.37 L901.15,699.39 L901.40,699.40 L901.65,699.41 L901.90,699.42 L902.15,699.43 L902.40,699.44 L902.65,699.45 L902.90,699.46 L903.15,699.47 L903.40,699.48 L903.65,699.49 L903.90,699.50 L904.15,699.51 L904.40,699.53 L904.65,699.54 L904.90,699.55 L905.15,699.56 L905.40,699.57 L905.65,699.58 L905.90,699.59 L906.15,699.60 L906.40,699.61 L906.65,699.62 L906.90,699.63 L907.15,699.64 L907.40,699.66 L907.65,699.67 L907.90,699.68 L908.15,699.69 L908.40,699.70 L908.65,699.71 L908.90,699.72 L909.15,699.73 L909.40,699.74 L909.65,699.75 L909.90,699.76 L910.15,699.78 L910.40,699.79 L910.65,699.80 L910.90,699.81 L911.15,699.82 L911.40,699.83 L911.65,699.84 L911.90,699.85 L912.15,699.86 L912.40,699.87 L912.65,699.88 L912.90,699.90 L913.15,699.91 L913.40,699.92 L913.65,699.93 L913.90,699.94 L914.15,699.95 L914.40,699.96 L914.65,699.97 L914.90,699.98 L915.15,699.99 L915.40,700.00 L915.65,700.02 L915.90,700.03 L916.15,700.04 L916.40,700.05 L916.65,700.06 L916.90,700.07 L917.15,700.08 L917.40,700.09 L917.65,700.10 L917.90,700.11 L918.15,700.13 L918.40,700.14 L918.65,700.15 L918.90,700.16 L919.15,700.17 L919.40,700.18 L919.65,700.19 L919.90,700.20 L920.15,700.21 L920.40,700.23 L920.65,700.24 L920.90,700.25 L921.15,700.26 L921.40,700.27 L921.65,700.28 L921.90,700.29 L922.15,700.30 L922.40,700.31 L922.65,700.33 L922.90,700.34 L923.15,700.35 L923.40,700.36 L923.65,700.37 L923.90,700.38 L924.15,700.39 L924.40,700.40 L924.65,700.41 L924.90,700.43 L925.15,700.44 L925.40,700.45 L925.65,700.46 L925.90,700.47 L926.15,700.48 L926.40,700.49 L926.65,700.50 L926.90,700.52 L927.15,700.53 L927.40,700.54 L927.65,700.55 L927.90,700.56 L928.15,700.57 L928.40,700.58 L928.65,700.59 L928.90,700.61 L929.15,700.62 L929.40,700.63 L929.65,700.64 L929.90,700.65 L930.15,700.66 L930.40,700.67 L930.65,700.68 L930.90,700.70 L931.15,700.71 L931.40,700.72 L931.65,700.73 L931.90,700.74 L932.15,700.75 L932.40,700.76 L932.65,700.78 L932.90,700.79 L933.15,700.80 L933.40,700.81 L933.65,700.82 L933.90,700.83 L934.15,700.84 L934.40,700.85 L934.65,700.87 L934.90,700.88 L935.15,700.89 L935.40,700.90 L935.65,700.91 L935.90,700.92 L936.15,700.93 L936.40,700.95 L936.65,700.96 L936.90,700.97 L937.15,700.98 L937.40,700.99 L937.65,701.00 L937.90,701.01 L938.15,701.03 L938.40,701.04 L938.65,701.05 L938.90,701.06 L939.15,701.07 L939.40,701.08 L939.65,701.10 L939.90,701.11 L940.15,701.12 L940.40,701.13 L940.65,701.14 L940.90,701.15 L941.15,701.16 L941.40,701.18 L941.65,701.19 L941.90,701.20 L942.15,701.21 L942.40,701.22 L942.65,701.23 L942.90,701.25 L943.15,701.26 L943.40,701.27 L943.65,701.28 L943.90,701.29 L944.15,701.30 L944.40,701.32 L944.65,701.33 L944.90,701.34 L945.15,701.35 L945.40,701.36 L945.65,701.37 L945.90,701.39 L946.15,701.40 L946.40,701.41 L946.65,701.42 L946.90,701.43 L947.15,701.44 L947.40,701.46 L947.65,701.47 L947.90,701.48 L948.15,701.49 L948.40,701.50 L948.65,701.51 L948.90,701.53 L949.15,701.54 L949.40,701.55 L949.65,701.56 L949.90,701.57 L950.15,701.58 L950.40,701.60 L950.65,701.61 L950.90,701.62 L951.15,701.63 L951.40,701.64 L951.65,701.66 L951.90,701.67 L952.15,701.68 L952.40,701.69 L952.65,701.70 L952.90,701.71 L953.15,701.73 L953.40,701.74 L953.65,701.75 L953.90,701.76 L954.15,701.77 L954.40,701.79 L954.65,701.80 L954.90,701.81 L955.15,701.82 L955.40,701.83 L955.65,701.85 L955.90,701.86 L956.15,701.87 L956.40,701.88 L956.65,701.89 L956.90,701.90 L957.15,701.92 L957.40,701.93 L957.65,701.94 L957.90,701.95 L958.15,701.96 L958.40,701.98 L958.65,701.99 L958.90,702.00 L959.15,702.01 L959.40,702.02 L959.65,702.04 L959.90,702.05 L960.15,702.06 L960.40,702.07 L960.65,702.08 L960.90,702.10 L961.15,702.11 L961.40,702.12 L961.65,702.13 L961.90,702.15 L962.15,702.16 L962.40,702.17 L962.65,702.18 L962.90,702.19 L963.15,702.21 L963.40,702.22 L963.65,702.23 L963.90,702.24 L964.15,702.25 L964.40,702.27 L964.65,702.28 L964.90,702.29 L965.15,702.30 L965.40,702.31 L965.65,702.33 L965.90,702.34 L966.15,702.35 L966.40,702.36 L966.65,702.38 L966.90,702.39 L967.15,702.40 L967.40,702.41 L967.65,702.42 L967.90,702.44 L968.15,702.45 L968.40,702.46 L968.65,702.47 L968.90,702.49 L969.15,702.50 L969.40,702.51 L969.65,702.52 L969.90,702.54 L970.15,702.55 L970.40,702.56 L970.65,702.57 L970.90,702.58 L971.15,702.60 L971.40,702.61 L971.65,702.62 L971.90,702.63 L972.15,702.65 L972.40,702.66 L972.65,702.67 L972.90,702.68 L973.15,702.70 L973.40,702.71 L973.65,702.72 L973.90,702.73 L974.15,702.75 L974.40,702.76 L974.65,702.77 L974.90,702.78 L975.15,702.80 L975.40,702.81 L975.65,702.82 L975.90,702.83 L976.15,702.85 L976.40,702.86 L976.65,702.87 L976.90,702.88 L977.15,702.90 L977.40,702.91 L977.65,702.92 L977.90,702.93 L978.15,702.95 L978.40,702.96 L978.65,702.97 L978.90,702.98 L979.15,703.00 L979.40,703.01 L979.65,703.02 L979.90,703.03 L980.15,703.05 L980.40,703.06 L980.65,703.07 L980.90,703.08 L981.15,703.10 L981.40,703.11 L981.65,703.12 L981.90,703.13 L982.15,703.15 L982.40,703.16 L982.65,703.17 L982.90,703.18 L983.15,703.20 L983.40,703.21 L983.65,703.22 L983.90,703.24 L984.15,703.25 L984.40,703.26 L984.65,703.27 L984.90,703.29 L985.15,703.30 L985.40,703.31 L985.65,703.32 L985.90,703.34 L986.15,703.35 L986.40,703.36 L986.65,703.38 L986.90,703.39 L987.15,703.40 L987.40,703.41 L987.65,703.43 L987.90,703.44 L988.15,703.45 L988.40,703.47 L988.65,703.48 L988.90,703.49 L989.15,703.50 L989.40,703.52 L989.65,703.53 L989.90,703.54 L990.15,703.55 L990.40,703.57 L990.65,703.58 L990.90,703.59 L991.15,703.61 L991.40,703.62 L991.65,703.63 L991.90,703.65 L992.15,703.66 L992.40,703.67 L992.65,703.68 L992.90,703.70 L993.15,703.71 L993.40,703.72 L993.65,703.74 L993.90,703.75 L994.15,703.76 L994.40,703.77 L994.65,703.79 L994.90,703.80 L995.15,703.81 L995.40,703.83 L995.65,703.84 L995.90,703.85 L996.15,703.87 L996.40,703.88 L996.65,703.89 L996.90,703.91 L997.15,703.92 L997.40,703.93 L997.65,703.94 L997.90,703.96 L998.15,703.97 L998.40,703.98 L998.65,704.00 L998.90,704.01 L999.15,704.02 L999.40,704.04 L999.65,704.05 L999.90,704.06 L1000.15,704.08 L1000.40,704.09 L1000.65,704.10 L1000.90,704.12 L1001.15,704.13 L1001.40,704.14 L1001.65,704.16 L1001.90,704.17 L1002.15,704.18 L1002.40,704.19 L1002.65,704.21 L1002.90,704.22 L1003.15,704.23 L1003.40,704.25 L1003.65,704.26 L1003.90,704.27 L1004.15,704.29 L1004.40,704.30 L1004.65,704.31 L1004.90,704.33 L1005.15,704.34 L1005.40,704.35 L1005.65,704.37 L1005.90,704.38 L1006.15,704.39 L1006.40,704.41 L1006.65,704.42 L1006.90,704.43 L1007.15,704.45 L1007.40,704.46 L1007.65,704.47 L1007.90,704.49 L1008.15,704.50 L1008.40,704.51 L1008.65,704.53 L1008.90,704.54 L1009.15,704.56 L1009.40,704.57 L1009.65,704.58 L1009.90,704.60 L1010.15,704.61 L1010.40,704.62 L1010.65,704.64 L1010.90,704.65 L1011.15,704.66 L1011.40,704.68 L1011.65,704.69 L1011.90,704.70 L1012.15,704.72 L1012.40,704.73 L1012.65,704.74 L1012.90,704.76 L1013.15,704.77 L1013.40,704.78 L1013.65,704.80 L1013.90,704.81 L1014.15,704.83 L1014.40,704.84 L1014.65,704.85 L1014.90,704.87 L1015.15,704.88 L1015.40,704.89 L1015.65,704.91 L1015.90,704.92 L1016.15,704.93 L1016.40,704.95 L1016.65,704.96 L1016.90,704.98 L1017.15,704.99 L1017.40,705.00 L1017.65,705.02 L1017.90,705.03 L1018.15,705.04 L1018.40,705.06 L1018.65,705.07 L1018.90,705.09 L1019.15,705.10 L1019.40,705.11 L1019.65,705.13 L1019.90,705.14 L1020.15,705.15 L1020.40,705.17 L1020.65,705.18 L1020.90,705.20 L1021.15,705.21 L1021.40,705.22 L1021.65,705.24 L1021.90,705.25 L1022.15,705.26 L1022.40,705.28 L1022.65,705.29 L1022.90,705.31 L1023.15,705.32 L1023.40,705.33 L1023.65,705.35 L1023.90,705.36 L1024.15,705.38 L1024.40,705.39 L1024.65,705.40 L1024.90,705.42 L1025.15,705.43 L1025.40,705.45 L1025.65,705.46 L1025.90,705.47 L1026.15,705.49 L1026.40,705.50 L1026.65,705.52 L1026.90,705.53 L1027.15,705.54 L1027.40,705.56 L1027.65,705.57 L1027.90,705.59 L1028.15,705.60 L1028.40,705.61 L1028.65,705.63 L1028.90,705.64 L1029.15,705.66 L1029.40,705.67 L1029.65,705.68 L1029.90,705.70 L1030.15,705.71 L1030.40,705.73 L1030.65,705.74 L1030.90,705.75 L1031.15,705.77 L1031.40,705.78 L1031.65,705.80 L1031.90,705.81 L1032.15,705.82 L1032.40,705.84 L1032.65,705.85 L1032.90,705.87 L1033.15,705.88 L1033.40,705.90 L1033.65,705.91 L1033.90,705.92 L1034.15,705.94 L1034.40,705.95 L1034.65,705.97 L1034.90,705.98 L1035.15,705.99 L1035.40,706.01 L1035.65,706.02 L1035.90,706.04 L1036.15,706.05 L1036.40,706.07 L1036.65,706.08 L1036.90,706.09 L1037.15,706.11 L1037.40,706.12 L1037.65,706.14 L1037.90,706.15 L1038.15,706.17 L1038.40,706.18 L1038.65,706.20 L1038.90,706.21 L1039.15,706.22 L1039.40,706.24 L1039.65,706.25 L1039.90,706.27 L1040.15,706.28 L1040.40,706.30 L1040.65,706.31 L1040.90,706.32 L1041.15,706.34 L1041.40,706.35 L1041.65,706.37 L1041.90,706.38 L1042.15,706.40 L1042.40,706.41 L1042.65,706.43 L1042.90,706.44 L1043.15,706.45 L1043.40,706.47 L1043.65,706.48 L1043.90,706.50 L1044.15,706.51 L1044.40,706.53" fill="none" stroke="#000" stroke-width="2.0" stroke-linejoin="round"/>
<path d="M679.2,472.2 L681.5,540 L684.2,565.7 L686.3,590 L687.8,599 L688.8,604.5 L690,607.3 L692,608.4 L697,608.8 L1045.3,608.8" fill="none" stroke="#f00" stroke-width="2.8" stroke-linejoin="round"/>
<line x1="696.13" y1="755.5" x2="696.13" y2="752.0999999999999" stroke="#000" stroke-width="1.6"/>
<line x1="712.75" y1="755.5" x2="712.75" y2="749.5" stroke="#000" stroke-width="1.6"/>
<line x1="729.38" y1="755.5" x2="729.38" y2="752.0999999999999" stroke="#000" stroke-width="1.6"/>
<line x1="746.01" y1="755.5" x2="746.01" y2="752.0999999999999" stroke="#000" stroke-width="1.6"/>
<line x1="762.64" y1="755.5" x2="762.64" y2="752.0999999999999" stroke="#000" stroke-width="1.6"/>
<line x1="779.26" y1="755.5" x2="779.26" y2="752.0999999999999" stroke="#000" stroke-width="1.6"/>
<line x1="795.89" y1="755.5" x2="795.89" y2="749.5" stroke="#000" stroke-width="1.6"/>
<line x1="812.52" y1="755.5" x2="812.52" y2="752.0999999999999" stroke="#000" stroke-width="1.6"/>
<line x1="829.15" y1="755.5" x2="829.15" y2="752.0999999999999" stroke="#000" stroke-width="1.6"/>
<line x1="845.77" y1="755.5" x2="845.77" y2="752.0999999999999" stroke="#000" stroke-width="1.6"/>
<line x1="862.40" y1="755.5" x2="862.40" y2="752.0999999999999" stroke="#000" stroke-width="1.6"/>
<line x1="879.03" y1="755.5" x2="879.03" y2="749.5" stroke="#000" stroke-width="1.6"/>
<line x1="895.65" y1="755.5" x2="895.65" y2="752.0999999999999" stroke="#000" stroke-width="1.6"/>
<line x1="912.28" y1="755.5" x2="912.28" y2="752.0999999999999" stroke="#000" stroke-width="1.6"/>
<line x1="928.91" y1="755.5" x2="928.91" y2="752.0999999999999" stroke="#000" stroke-width="1.6"/>
<line x1="945.54" y1="755.5" x2="945.54" y2="752.0999999999999" stroke="#000" stroke-width="1.6"/>
<line x1="962.16" y1="755.5" x2="962.16" y2="749.5" stroke="#000" stroke-width="1.6"/>
<line x1="978.79" y1="755.5" x2="978.79" y2="752.0999999999999" stroke="#000" stroke-width="1.6"/>
<line x1="995.42" y1="755.5" x2="995.42" y2="752.0999999999999" stroke="#000" stroke-width="1.6"/>
<line x1="1012.05" y1="755.5" x2="1012.05" y2="752.0999999999999" stroke="#000" stroke-width="1.6"/>
<line x1="1028.67" y1="755.5" x2="1028.67" y2="752.0999999999999" stroke="#000" stroke-width="1.6"/>
<text transform="translate(712.75 776.00) scale(1.08 1)" font-size="18" text-anchor="middle" fill="#000">0.5</text>
<text transform="translate(795.89 776.00) scale(1.08 1)" font-size="18" text-anchor="middle" fill="#000">1.0</text>
<text transform="translate(879.03 776.00) scale(1.08 1)" font-size="18" text-anchor="middle" fill="#000">1.5</text>
<text transform="translate(962.16 776.00) scale(1.08 1)" font-size="18" text-anchor="middle" fill="#000">2.0</text>
<text transform="translate(1045.30 776.00) scale(1.08 1)" font-size="18" text-anchor="middle" fill="#000">2.5</text>
<line x1="679.5" y1="737.12" x2="682.50" y2="737.12" stroke="#000" stroke-width="1.6"/>
<line x1="679.5" y1="718.75" x2="685.50" y2="718.75" stroke="#000" stroke-width="1.6"/>
<line x1="679.5" y1="700.38" x2="682.50" y2="700.38" stroke="#000" stroke-width="1.6"/>
<line x1="679.5" y1="682.00" x2="685.50" y2="682.00" stroke="#000" stroke-width="1.6"/>
<line x1="679.5" y1="663.62" x2="682.50" y2="663.62" stroke="#000" stroke-width="1.6"/>
<line x1="679.5" y1="645.25" x2="685.50" y2="645.25" stroke="#000" stroke-width="1.6"/>
<line x1="679.5" y1="626.88" x2="682.50" y2="626.88" stroke="#000" stroke-width="1.6"/>
<line x1="679.5" y1="608.50" x2="685.50" y2="608.50" stroke="#000" stroke-width="1.6"/>
<line x1="679.5" y1="590.12" x2="682.50" y2="590.12" stroke="#000" stroke-width="1.6"/>
<line x1="679.5" y1="571.75" x2="685.50" y2="571.75" stroke="#000" stroke-width="1.6"/>
<line x1="679.5" y1="553.38" x2="682.50" y2="553.38" stroke="#000" stroke-width="1.6"/>
<line x1="679.5" y1="535.00" x2="685.50" y2="535.00" stroke="#000" stroke-width="1.6"/>
<line x1="679.5" y1="516.62" x2="682.50" y2="516.62" stroke="#000" stroke-width="1.6"/>
<line x1="679.5" y1="498.25" x2="685.50" y2="498.25" stroke="#000" stroke-width="1.6"/>
<line x1="679.5" y1="479.88" x2="682.50" y2="479.88" stroke="#000" stroke-width="1.6"/>
<text transform="translate(674.00 761.80) scale(1.08 1)" font-size="18" text-anchor="end" fill="#000">1.92</text>
<text transform="translate(674.00 725.05) scale(1.08 1)" font-size="18" text-anchor="end" fill="#000">2.16</text>
<text transform="translate(674.00 688.30) scale(1.08 1)" font-size="18" text-anchor="end" fill="#000">2.40</text>
<text transform="translate(674.00 651.55) scale(1.08 1)" font-size="18" text-anchor="end" fill="#000">2.64</text>
<text transform="translate(674.00 614.80) scale(1.08 1)" font-size="18" text-anchor="end" fill="#000">2.88</text>
<text transform="translate(674.00 578.05) scale(1.08 1)" font-size="18" text-anchor="end" fill="#000">3.12</text>
<text transform="translate(674.00 541.30) scale(1.08 1)" font-size="18" text-anchor="end" fill="#000">3.36</text>
<text transform="translate(674.00 504.55) scale(1.08 1)" font-size="18" text-anchor="end" fill="#000">3.60</text>
<text transform="translate(674.00 467.80) scale(1.08 1)" font-size="18" text-anchor="end" fill="#000">3.84</text>
<line x1="1045.3" y1="737.12" x2="1042.10" y2="737.12" stroke="#f00" stroke-width="1.6"/>
<line x1="1045.3" y1="718.75" x2="1038.80" y2="718.75" stroke="#f00" stroke-width="1.6"/>
<line x1="1045.3" y1="700.38" x2="1042.10" y2="700.38" stroke="#f00" stroke-width="1.6"/>
<line x1="1045.3" y1="682.00" x2="1038.80" y2="682.00" stroke="#f00" stroke-width="1.6"/>
<line x1="1045.3" y1="663.62" x2="1042.10" y2="663.62" stroke="#f00" stroke-width="1.6"/>
<line x1="1045.3" y1="645.25" x2="1038.80" y2="645.25" stroke="#f00" stroke-width="1.6"/>
<line x1="1045.3" y1="626.88" x2="1042.10" y2="626.88" stroke="#f00" stroke-width="1.6"/>
<line x1="1045.3" y1="608.50" x2="1038.80" y2="608.50" stroke="#f00" stroke-width="1.6"/>
<line x1="1045.3" y1="590.12" x2="1042.10" y2="590.12" stroke="#f00" stroke-width="1.6"/>
<line x1="1045.3" y1="571.75" x2="1038.80" y2="571.75" stroke="#f00" stroke-width="1.6"/>
<line x1="1045.3" y1="553.38" x2="1042.10" y2="553.38" stroke="#f00" stroke-width="1.6"/>
<line x1="1045.3" y1="535.00" x2="1038.80" y2="535.00" stroke="#f00" stroke-width="1.6"/>
<line x1="1045.3" y1="516.62" x2="1042.10" y2="516.62" stroke="#f00" stroke-width="1.6"/>
<line x1="1045.3" y1="498.25" x2="1038.80" y2="498.25" stroke="#f00" stroke-width="1.6"/>
<line x1="1045.3" y1="479.88" x2="1042.10" y2="479.88" stroke="#f00" stroke-width="1.6"/>
<text transform="translate(1051.30 761.80) scale(1.08 1)" font-size="18" text-anchor="start" fill="#f00">-1.00</text>
<text transform="translate(1051.30 725.05) scale(1.08 1)" font-size="18" text-anchor="start" fill="#f00">-0.75</text>
<text transform="translate(1051.30 688.30) scale(1.08 1)" font-size="18" text-anchor="start" fill="#f00">-0.50</text>
<text transform="translate(1051.30 651.55) scale(1.08 1)" font-size="18" text-anchor="start" fill="#f00">-0.25</text>
<text transform="translate(1051.30 614.80) scale(1.08 1)" font-size="18" text-anchor="start" fill="#f00">0.00</text>
<text transform="translate(1051.30 578.05) scale(1.08 1)" font-size="18" text-anchor="start" fill="#f00">0.25</text>
<text transform="translate(1051.30 541.30) scale(1.08 1)" font-size="18" text-anchor="start" fill="#f00">0.50</text>
<text transform="translate(1051.30 504.55) scale(1.08 1)" font-size="18" text-anchor="start" fill="#f00">0.75</text>
<text transform="translate(1051.30 467.80) scale(1.08 1)" font-size="18" text-anchor="start" fill="#f00">1.00</text>
<path d="M1039.3,461.5 L679.5,461.5 L679.5,755.5 L1039.3,755.5" fill="none" stroke="#000" stroke-width="2.4" stroke-linecap="square"/>
<path d="M1039.3,461.5 L1045.3,461.5 L1045.3,755.5 L1039.3,755.5" fill="none" stroke="#f00" stroke-width="2.4" stroke-linecap="square"/>
<text x="622.3" y="598.5" font-size="22" text-anchor="middle" fill="#000" transform="rotate(-90 622.3 598.5)">Refractive index (<tspan font-style="italic">n</tspan>)</text>
<text x="1112.5" y="608.5" font-size="22.5" text-anchor="middle" fill="#f00" transform="rotate(-90 1112.5 608.5)">Extinction coefficient (<tspan font-style="italic">k</tspan>)</text>
<text x="862.0" y="808.3" font-size="22" text-anchor="middle" fill="#000" >W<tspan dx="3">avelength (µm)</tspan></text>
</svg></body></html>
